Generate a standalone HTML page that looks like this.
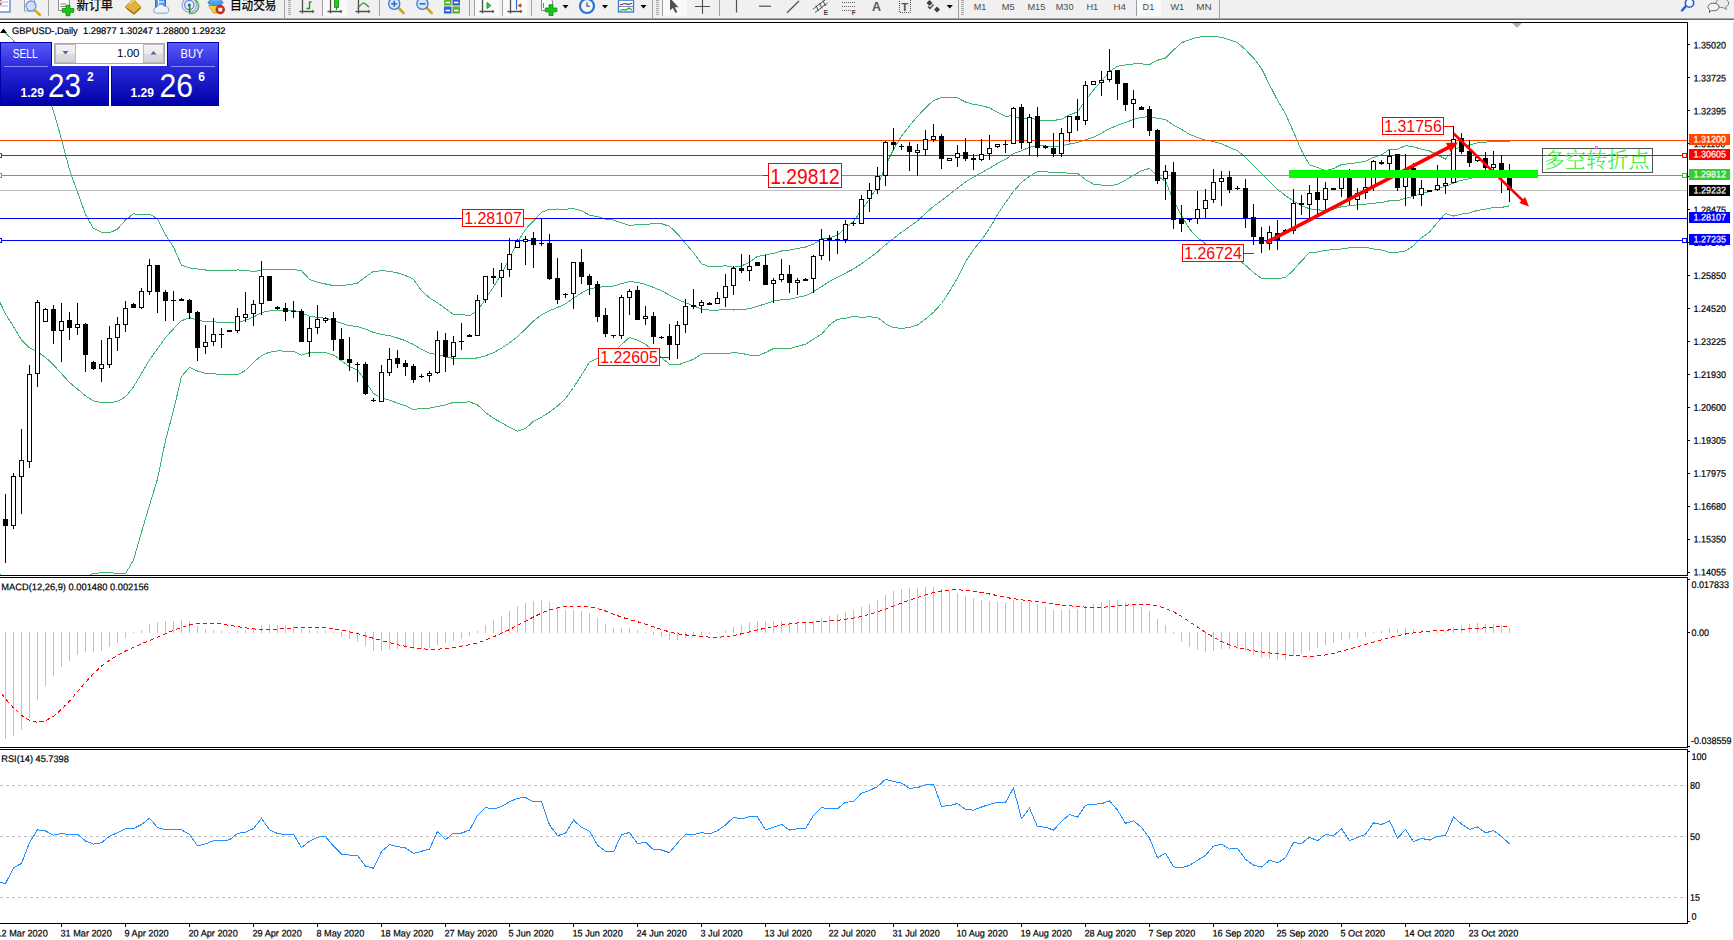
<!DOCTYPE html>
<html><head><meta charset="utf-8"><title>GBPUSD Daily</title>
<style>html,body{margin:0;padding:0;background:#fff;}body{width:1734px;height:940px;overflow:hidden;position:relative;font-family:"Liberation Sans", sans-serif;}svg{position:absolute;left:0;top:0;display:block}text{font-family:"Liberation Sans", sans-serif;}.ax{font-size:9.6px;fill:#000;stroke:#000;stroke-width:0.2px}.cj{font-family:"Liberation Sans","Noto Sans CJK SC",sans-serif}</style>
</head><body>
<svg width="1734" height="940" viewBox="0 0 1734 940">
<defs>
<linearGradient id="gs1" x1="0" y1="0" x2="0" y2="1"><stop offset="0" stop-color="#5a5af6"/><stop offset="1" stop-color="#2a2adc"/></linearGradient>
<linearGradient id="gs2" x1="0" y1="0" x2="0" y2="1"><stop offset="0" stop-color="#2a2adc"/><stop offset="1" stop-color="#0000a8"/></linearGradient>
<linearGradient id="gbtn" x1="0" y1="0" x2="0" y2="1"><stop offset="0" stop-color="#f3f3f3"/><stop offset="0.5" stop-color="#ebebeb"/><stop offset="0.5" stop-color="#dddddd"/><stop offset="1" stop-color="#d2d2d2"/></linearGradient>
<clipPath id="cmain"><rect x="0" y="23" width="1687" height="552"/></clipPath>
<clipPath id="ctb"><rect x="0" y="0" width="1734" height="18"/></clipPath>
</defs>
<rect x="0" y="0" width="1734" height="940" fill="#fff"/>
<g id="chart">
<g clip-path="url(#cmain)">
<polyline fill="none" stroke="#3cb371" stroke-width="1" points="5.5,33.1 13.5,40.5 21.5,54.7 29.5,68.7 37.5,77.5 45.5,91.0 53.5,111.0 61.5,139.3 69.5,169.9 77.5,192.1 85.5,214.5 93.5,228.5 101.5,232.1 109.5,232.9 117.5,229.1 125.5,220.1 133.5,213.8 141.5,214.9 149.5,214.2 157.5,218.7 165.5,234.8 173.5,247.2 181.5,265.2 189.5,268.0 197.5,269.0 205.5,270.0 213.5,270.0 221.5,270.4 229.5,270.4 237.5,270.0 245.5,270.1 253.5,271.8 261.5,269.8 269.5,269.4 277.5,269.2 285.5,269.3 293.5,269.5 301.5,270.7 309.5,279.4 317.5,282.3 325.5,284.0 333.5,285.6 341.5,285.6 349.5,284.6 357.5,283.1 365.5,276.9 373.5,271.4 381.5,270.8 389.5,271.2 397.5,273.0 405.5,275.5 413.5,279.3 421.5,290.7 429.5,297.9 437.5,302.7 445.5,308.7 453.5,314.3 461.5,314.4 469.5,315.8 477.5,310.8 485.5,299.1 493.5,287.1 501.5,273.8 509.5,258.4 517.5,242.2 525.5,229.3 533.5,221.0 541.5,212.2 549.5,209.2 557.5,209.0 565.5,209.2 573.5,208.5 581.5,210.8 589.5,215.1 597.5,216.6 605.5,219.3 613.5,220.1 621.5,222.9 629.5,225.6 637.5,224.6 645.5,224.8 653.5,223.5 661.5,223.7 669.5,226.3 677.5,233.9 685.5,243.3 693.5,252.6 701.5,263.7 709.5,267.0 717.5,266.8 725.5,265.7 733.5,267.2 741.5,266.0 749.5,262.2 757.5,256.4 765.5,254.9 773.5,253.4 781.5,251.0 789.5,250.1 797.5,248.5 805.5,247.0 813.5,244.2 821.5,239.0 829.5,237.9 837.5,235.1 845.5,227.6 853.5,221.4 861.5,210.1 869.5,199.2 877.5,186.4 885.5,165.8 893.5,149.4 901.5,136.2 909.5,125.8 917.5,116.4 925.5,107.9 933.5,100.4 941.5,97.6 949.5,97.3 957.5,97.9 965.5,102.0 973.5,104.5 981.5,105.5 989.5,107.9 997.5,112.3 1005.5,116.2 1013.5,115.8 1021.5,119.3 1029.5,118.0 1037.5,119.9 1045.5,120.2 1053.5,120.5 1061.5,119.2 1069.5,114.8 1077.5,111.9 1085.5,100.2 1093.5,90.0 1101.5,81.1 1109.5,71.6 1117.5,66.2 1125.5,65.0 1133.5,63.9 1141.5,63.9 1149.5,64.5 1157.5,60.3 1165.5,58.1 1173.5,50.1 1181.5,42.8 1189.5,39.7 1197.5,37.3 1205.5,36.2 1213.5,36.2 1221.5,37.3 1229.5,39.9 1237.5,42.5 1245.5,49.7 1253.5,58.0 1261.5,68.4 1269.5,84.7 1277.5,100.3 1285.5,113.7 1293.5,131.9 1301.5,150.5 1309.5,164.9 1317.5,167.5 1325.5,170.7 1333.5,168.6 1341.5,164.5 1349.5,163.8 1357.5,162.7 1365.5,161.3 1373.5,157.4 1381.5,155.0 1389.5,149.3 1397.5,149.3 1405.5,145.7 1413.5,146.8 1421.5,149.2 1429.5,151.0 1437.5,155.0 1445.5,159.0 1453.5,150.1 1461.5,146.5 1469.5,144.8 1477.5,142.9 1485.5,142.2 1493.5,141.2 1501.5,141.1 1509.5,141.9" shape-rendering="crispEdges"/>
<polyline fill="none" stroke="#3cb371" stroke-width="1" points="-2.5,297.0 5.5,313.9 13.5,326.6 21.5,339.8 29.5,347.9 37.5,351.9 45.5,357.3 53.5,364.9 61.5,373.7 69.5,382.5 77.5,389.0 85.5,395.9 93.5,400.9 101.5,402.5 109.5,402.8 117.5,401.3 125.5,396.9 133.5,386.9 141.5,373.5 149.5,359.8 157.5,348.8 165.5,337.6 173.5,328.8 181.5,320.8 189.5,317.7 197.5,320.0 205.5,321.7 213.5,321.8 221.5,322.5 229.5,322.7 237.5,322.3 245.5,320.3 253.5,317.1 261.5,312.7 269.5,310.8 277.5,310.0 285.5,310.2 293.5,310.4 301.5,312.9 309.5,316.1 317.5,317.4 325.5,318.3 333.5,320.2 341.5,323.2 349.5,325.7 357.5,326.5 365.5,329.1 373.5,332.4 381.5,334.4 389.5,335.7 397.5,338.0 405.5,340.7 413.5,344.5 421.5,349.5 429.5,353.1 437.5,354.6 445.5,356.8 453.5,358.4 461.5,358.4 469.5,358.8 477.5,357.9 485.5,355.8 493.5,352.7 501.5,348.2 509.5,342.8 517.5,336.7 525.5,328.9 533.5,321.1 541.5,314.7 549.5,310.7 557.5,307.5 565.5,303.9 573.5,298.0 581.5,293.0 589.5,288.6 597.5,287.5 605.5,286.3 613.5,286.0 621.5,283.7 629.5,281.5 637.5,282.4 645.5,284.4 653.5,287.4 661.5,290.7 669.5,295.2 677.5,299.4 685.5,302.8 693.5,305.9 701.5,308.9 709.5,310.1 717.5,310.1 725.5,309.7 733.5,310.0 741.5,309.7 749.5,308.7 757.5,306.2 765.5,303.8 773.5,301.0 781.5,299.8 789.5,299.4 797.5,297.4 805.5,295.6 813.5,291.6 821.5,286.7 829.5,281.4 837.5,277.1 845.5,273.1 853.5,268.9 861.5,263.7 869.5,258.0 877.5,251.9 885.5,244.7 893.5,238.5 901.5,232.3 909.5,226.6 917.5,220.8 925.5,213.5 933.5,206.3 941.5,200.6 949.5,194.4 957.5,188.0 965.5,181.9 973.5,177.1 981.5,172.8 989.5,168.2 997.5,163.4 1005.5,159.4 1013.5,153.7 1021.5,150.8 1029.5,147.2 1037.5,145.7 1045.5,146.0 1053.5,146.5 1061.5,145.8 1069.5,144.0 1077.5,142.6 1085.5,139.9 1093.5,137.1 1101.5,133.1 1109.5,128.7 1117.5,125.3 1125.5,122.6 1133.5,119.5 1141.5,117.4 1149.5,116.5 1157.5,118.3 1165.5,119.6 1173.5,125.2 1181.5,129.3 1189.5,134.4 1197.5,137.5 1205.5,140.1 1213.5,141.5 1221.5,143.7 1229.5,147.4 1237.5,150.8 1245.5,157.4 1253.5,165.2 1261.5,173.4 1269.5,181.5 1277.5,189.3 1285.5,195.7 1293.5,200.9 1301.5,205.7 1309.5,208.8 1317.5,209.8 1325.5,210.6 1333.5,209.1 1341.5,206.7 1349.5,205.7 1357.5,204.9 1365.5,204.2 1373.5,203.2 1381.5,202.5 1389.5,200.8 1397.5,200.8 1405.5,198.3 1413.5,196.3 1421.5,193.5 1429.5,191.5 1437.5,188.7 1445.5,186.3 1453.5,183.0 1461.5,180.3 1469.5,178.8 1477.5,176.6 1485.5,175.7 1493.5,174.3 1501.5,174.2 1509.5,173.8" shape-rendering="crispEdges"/>
<polyline fill="none" stroke="#3cb371" stroke-width="1" points="-2.5,564.9 5.5,594.6 13.5,612.6 21.5,624.9 29.5,627.2 37.5,626.2 45.5,623.7 53.5,618.9 61.5,608.1 69.5,595.2 77.5,585.8 85.5,577.2 93.5,573.2 101.5,572.9 109.5,572.7 117.5,573.4 125.5,573.7 133.5,559.9 141.5,532.2 149.5,505.4 157.5,478.9 165.5,440.3 173.5,410.4 181.5,376.4 189.5,367.5 197.5,371.0 205.5,373.4 213.5,373.7 221.5,374.7 229.5,375.0 237.5,374.7 245.5,370.5 253.5,362.3 261.5,355.5 269.5,352.2 277.5,350.9 285.5,351.1 293.5,351.3 301.5,355.1 309.5,352.7 317.5,352.5 325.5,352.6 333.5,354.9 341.5,360.8 349.5,366.8 357.5,369.9 365.5,381.3 373.5,393.5 381.5,397.9 389.5,400.2 397.5,403.1 405.5,405.9 413.5,409.7 421.5,408.2 429.5,408.2 437.5,406.5 445.5,404.9 453.5,402.4 461.5,402.4 469.5,401.8 477.5,404.9 485.5,412.4 493.5,418.3 501.5,422.7 509.5,427.3 517.5,431.2 525.5,428.6 533.5,421.2 541.5,417.1 549.5,412.1 557.5,406.0 565.5,398.6 573.5,387.5 581.5,375.2 589.5,362.1 597.5,358.4 605.5,353.4 613.5,351.9 621.5,344.6 629.5,337.3 637.5,340.3 645.5,344.1 653.5,351.2 661.5,357.8 669.5,364.2 677.5,365.0 685.5,362.3 693.5,359.2 701.5,354.1 709.5,353.3 717.5,353.3 725.5,353.6 733.5,352.7 741.5,353.3 749.5,355.2 757.5,356.0 765.5,352.6 773.5,348.5 781.5,348.7 789.5,348.7 797.5,346.4 805.5,344.2 813.5,339.1 821.5,334.3 829.5,325.0 837.5,319.2 845.5,318.5 853.5,316.4 861.5,317.3 869.5,316.8 877.5,317.4 885.5,323.6 893.5,327.6 901.5,328.4 909.5,327.4 917.5,325.1 925.5,319.1 933.5,312.3 941.5,303.5 949.5,291.4 957.5,278.0 965.5,261.8 973.5,249.6 981.5,240.1 989.5,228.5 997.5,214.6 1005.5,202.6 1013.5,191.5 1021.5,182.4 1029.5,176.3 1037.5,171.5 1045.5,171.8 1053.5,172.5 1061.5,172.4 1069.5,173.3 1077.5,173.3 1085.5,179.5 1093.5,184.2 1101.5,185.1 1109.5,185.8 1117.5,184.4 1125.5,180.1 1133.5,175.2 1141.5,170.8 1149.5,168.4 1157.5,176.2 1165.5,181.2 1173.5,200.4 1181.5,215.7 1189.5,229.1 1197.5,237.6 1205.5,243.9 1213.5,246.8 1221.5,250.1 1229.5,254.9 1237.5,259.0 1245.5,265.2 1253.5,272.5 1261.5,278.4 1269.5,278.3 1277.5,278.4 1285.5,277.7 1293.5,269.9 1301.5,260.9 1309.5,252.7 1317.5,252.0 1325.5,250.4 1333.5,249.6 1341.5,249.0 1349.5,247.7 1357.5,247.1 1365.5,247.1 1373.5,249.0 1381.5,250.1 1389.5,252.3 1397.5,252.3 1405.5,250.9 1413.5,245.7 1421.5,237.8 1429.5,232.0 1437.5,222.4 1445.5,213.5 1453.5,216.0 1461.5,214.1 1469.5,212.9 1477.5,210.4 1485.5,209.1 1493.5,207.5 1501.5,207.4 1509.5,205.8" shape-rendering="crispEdges"/>
</g>
<rect x="0" y="140" width="1687" height="1" fill="#ff4500"/>
<rect x="0" y="155" width="1687" height="1" fill="#ff0000"/>
<rect x="0" y="175" width="1687" height="1" fill="#32cd32"/>
<rect x="0" y="190" width="1687" height="1" fill="#c0c0c0"/>
<rect x="0" y="218" width="1687" height="1" fill="#0000ff"/>
<rect x="0" y="240" width="1687" height="1" fill="#0000ff"/>
<g shape-rendering="crispEdges">
<rect x="5" y="494" width="1" height="69" fill="#000"/>
<rect x="3" y="519" width="5" height="7" fill="#000"/>
<rect x="13" y="473" width="1" height="56" fill="#000"/>
<rect x="11" y="476" width="5" height="50" fill="#000"/>
<rect x="12" y="477" width="3" height="48" fill="#fff"/>
<rect x="21" y="429" width="1" height="85" fill="#000"/>
<rect x="19" y="460" width="5" height="17" fill="#000"/>
<rect x="20" y="461" width="3" height="15" fill="#fff"/>
<rect x="29" y="365" width="1" height="103" fill="#000"/>
<rect x="27" y="374" width="5" height="88" fill="#000"/>
<rect x="28" y="375" width="3" height="86" fill="#fff"/>
<rect x="37" y="300" width="1" height="87" fill="#000"/>
<rect x="35" y="302" width="5" height="72" fill="#000"/>
<rect x="36" y="303" width="3" height="70" fill="#fff"/>
<rect x="45" y="308" width="1" height="14" fill="#000"/>
<rect x="43" y="309" width="5" height="13" fill="#000"/>
<rect x="44" y="310" width="3" height="11" fill="#fff"/>
<rect x="53" y="305" width="1" height="39" fill="#000"/>
<rect x="51" y="309" width="5" height="22" fill="#000"/>
<rect x="61" y="303" width="1" height="59" fill="#000"/>
<rect x="59" y="321" width="5" height="10" fill="#000"/>
<rect x="60" y="322" width="3" height="8" fill="#fff"/>
<rect x="69" y="312" width="1" height="28" fill="#000"/>
<rect x="67" y="320" width="5" height="8" fill="#000"/>
<rect x="77" y="303" width="1" height="32" fill="#000"/>
<rect x="75" y="324" width="5" height="4" fill="#000"/>
<rect x="76" y="325" width="3" height="2" fill="#fff"/>
<rect x="85" y="323" width="1" height="49" fill="#000"/>
<rect x="83" y="324" width="5" height="31" fill="#000"/>
<rect x="93" y="361" width="1" height="9" fill="#000"/>
<rect x="91" y="362" width="5" height="7" fill="#000"/>
<rect x="101" y="340" width="1" height="42" fill="#000"/>
<rect x="99" y="364" width="5" height="5" fill="#000"/>
<rect x="100" y="365" width="3" height="3" fill="#fff"/>
<rect x="109" y="326" width="1" height="42" fill="#000"/>
<rect x="107" y="338" width="5" height="27" fill="#000"/>
<rect x="108" y="339" width="3" height="25" fill="#fff"/>
<rect x="117" y="317" width="1" height="34" fill="#000"/>
<rect x="115" y="324" width="5" height="14" fill="#000"/>
<rect x="116" y="325" width="3" height="12" fill="#fff"/>
<rect x="125" y="301" width="1" height="31" fill="#000"/>
<rect x="123" y="308" width="5" height="17" fill="#000"/>
<rect x="124" y="309" width="3" height="15" fill="#fff"/>
<rect x="133" y="303" width="1" height="5" fill="#000"/>
<rect x="131" y="304" width="5" height="4" fill="#000"/>
<rect x="141" y="288" width="1" height="21" fill="#000"/>
<rect x="139" y="291" width="5" height="17" fill="#000"/>
<rect x="140" y="292" width="3" height="15" fill="#fff"/>
<rect x="149" y="259" width="1" height="36" fill="#000"/>
<rect x="147" y="265" width="5" height="27" fill="#000"/>
<rect x="148" y="266" width="3" height="25" fill="#fff"/>
<rect x="157" y="265" width="1" height="48" fill="#000"/>
<rect x="155" y="265" width="5" height="27" fill="#000"/>
<rect x="165" y="290" width="1" height="31" fill="#000"/>
<rect x="163" y="292" width="5" height="9" fill="#000"/>
<rect x="173" y="291" width="1" height="30" fill="#000"/>
<rect x="171" y="300" width="5" height="1" fill="#000"/>
<rect x="181" y="298" width="1" height="3" fill="#000"/>
<rect x="179" y="299" width="5" height="2" fill="#000"/>
<rect x="189" y="299" width="1" height="20" fill="#000"/>
<rect x="187" y="300" width="5" height="13" fill="#000"/>
<rect x="197" y="311" width="1" height="50" fill="#000"/>
<rect x="195" y="312" width="5" height="36" fill="#000"/>
<rect x="205" y="325" width="1" height="29" fill="#000"/>
<rect x="203" y="342" width="5" height="5" fill="#000"/>
<rect x="204" y="343" width="3" height="3" fill="#fff"/>
<rect x="213" y="318" width="1" height="28" fill="#000"/>
<rect x="211" y="334" width="5" height="8" fill="#000"/>
<rect x="212" y="335" width="3" height="6" fill="#fff"/>
<rect x="221" y="328" width="1" height="20" fill="#000"/>
<rect x="219" y="334" width="5" height="1" fill="#000"/>
<rect x="229" y="330" width="1" height="2" fill="#000"/>
<rect x="227" y="330" width="5" height="2" fill="#000"/>
<rect x="237" y="308" width="1" height="25" fill="#000"/>
<rect x="235" y="316" width="5" height="15" fill="#000"/>
<rect x="236" y="317" width="3" height="13" fill="#fff"/>
<rect x="245" y="292" width="1" height="30" fill="#000"/>
<rect x="243" y="314" width="5" height="4" fill="#000"/>
<rect x="244" y="315" width="3" height="2" fill="#fff"/>
<rect x="253" y="300" width="1" height="26" fill="#000"/>
<rect x="251" y="304" width="5" height="10" fill="#000"/>
<rect x="252" y="305" width="3" height="8" fill="#fff"/>
<rect x="261" y="261" width="1" height="54" fill="#000"/>
<rect x="259" y="276" width="5" height="28" fill="#000"/>
<rect x="260" y="277" width="3" height="26" fill="#fff"/>
<rect x="269" y="276" width="1" height="25" fill="#000"/>
<rect x="267" y="276" width="5" height="25" fill="#000"/>
<rect x="277" y="306" width="1" height="4" fill="#000"/>
<rect x="275" y="307" width="5" height="2" fill="#000"/>
<rect x="285" y="303" width="1" height="18" fill="#000"/>
<rect x="283" y="308" width="5" height="4" fill="#000"/>
<rect x="293" y="301" width="1" height="17" fill="#000"/>
<rect x="291" y="311" width="5" height="1" fill="#000"/>
<rect x="301" y="309" width="1" height="33" fill="#000"/>
<rect x="299" y="311" width="5" height="31" fill="#000"/>
<rect x="309" y="317" width="1" height="40" fill="#000"/>
<rect x="307" y="328" width="5" height="14" fill="#000"/>
<rect x="308" y="329" width="3" height="12" fill="#fff"/>
<rect x="317" y="305" width="1" height="29" fill="#000"/>
<rect x="315" y="319" width="5" height="9" fill="#000"/>
<rect x="316" y="320" width="3" height="7" fill="#fff"/>
<rect x="325" y="317" width="1" height="6" fill="#000"/>
<rect x="323" y="318" width="5" height="3" fill="#000"/>
<rect x="324" y="319" width="3" height="1" fill="#fff"/>
<rect x="333" y="312" width="1" height="39" fill="#000"/>
<rect x="331" y="318" width="5" height="22" fill="#000"/>
<rect x="341" y="328" width="1" height="32" fill="#000"/>
<rect x="339" y="339" width="5" height="21" fill="#000"/>
<rect x="349" y="337" width="1" height="34" fill="#000"/>
<rect x="347" y="359" width="5" height="4" fill="#000"/>
<rect x="357" y="362" width="1" height="20" fill="#000"/>
<rect x="355" y="364" width="5" height="1" fill="#000"/>
<rect x="365" y="362" width="1" height="33" fill="#000"/>
<rect x="363" y="364" width="5" height="30" fill="#000"/>
<rect x="373" y="398" width="1" height="4" fill="#000"/>
<rect x="371" y="400" width="5" height="1" fill="#000"/>
<rect x="381" y="365" width="1" height="37" fill="#000"/>
<rect x="379" y="372" width="5" height="30" fill="#000"/>
<rect x="380" y="373" width="3" height="28" fill="#fff"/>
<rect x="389" y="348" width="1" height="28" fill="#000"/>
<rect x="387" y="359" width="5" height="14" fill="#000"/>
<rect x="388" y="360" width="3" height="12" fill="#fff"/>
<rect x="397" y="350" width="1" height="18" fill="#000"/>
<rect x="395" y="358" width="5" height="6" fill="#000"/>
<rect x="405" y="360" width="1" height="16" fill="#000"/>
<rect x="403" y="363" width="5" height="4" fill="#000"/>
<rect x="413" y="364" width="1" height="19" fill="#000"/>
<rect x="411" y="366" width="5" height="14" fill="#000"/>
<rect x="421" y="374" width="1" height="4" fill="#000"/>
<rect x="419" y="376" width="5" height="1" fill="#000"/>
<rect x="429" y="371" width="1" height="11" fill="#000"/>
<rect x="427" y="373" width="5" height="3" fill="#000"/>
<rect x="428" y="374" width="3" height="1" fill="#fff"/>
<rect x="437" y="331" width="1" height="43" fill="#000"/>
<rect x="435" y="340" width="5" height="33" fill="#000"/>
<rect x="436" y="341" width="3" height="31" fill="#fff"/>
<rect x="445" y="333" width="1" height="39" fill="#000"/>
<rect x="443" y="340" width="5" height="17" fill="#000"/>
<rect x="453" y="336" width="1" height="29" fill="#000"/>
<rect x="451" y="342" width="5" height="15" fill="#000"/>
<rect x="452" y="343" width="3" height="13" fill="#fff"/>
<rect x="461" y="323" width="1" height="27" fill="#000"/>
<rect x="459" y="341" width="5" height="1" fill="#000"/>
<rect x="469" y="334" width="1" height="3" fill="#000"/>
<rect x="467" y="335" width="5" height="2" fill="#000"/>
<rect x="477" y="295" width="1" height="41" fill="#000"/>
<rect x="475" y="300" width="5" height="36" fill="#000"/>
<rect x="476" y="301" width="3" height="34" fill="#fff"/>
<rect x="485" y="276" width="1" height="27" fill="#000"/>
<rect x="483" y="276" width="5" height="24" fill="#000"/>
<rect x="484" y="277" width="3" height="22" fill="#fff"/>
<rect x="493" y="268" width="1" height="16" fill="#000"/>
<rect x="491" y="276" width="5" height="2" fill="#000"/>
<rect x="501" y="263" width="1" height="34" fill="#000"/>
<rect x="499" y="270" width="5" height="8" fill="#000"/>
<rect x="500" y="271" width="3" height="6" fill="#fff"/>
<rect x="509" y="238" width="1" height="39" fill="#000"/>
<rect x="507" y="254" width="5" height="16" fill="#000"/>
<rect x="508" y="255" width="3" height="14" fill="#fff"/>
<rect x="517" y="239" width="1" height="9" fill="#000"/>
<rect x="515" y="241" width="5" height="7" fill="#000"/>
<rect x="516" y="242" width="3" height="5" fill="#fff"/>
<rect x="525" y="236" width="1" height="29" fill="#000"/>
<rect x="523" y="239" width="5" height="3" fill="#000"/>
<rect x="524" y="240" width="3" height="1" fill="#fff"/>
<rect x="533" y="232" width="1" height="36" fill="#000"/>
<rect x="531" y="238" width="5" height="7" fill="#000"/>
<rect x="541" y="218" width="1" height="28" fill="#000"/>
<rect x="539" y="243" width="5" height="1" fill="#000"/>
<rect x="549" y="234" width="1" height="46" fill="#000"/>
<rect x="547" y="243" width="5" height="36" fill="#000"/>
<rect x="557" y="258" width="1" height="46" fill="#000"/>
<rect x="555" y="278" width="5" height="22" fill="#000"/>
<rect x="565" y="293" width="1" height="5" fill="#000"/>
<rect x="563" y="294" width="5" height="1" fill="#000"/>
<rect x="573" y="262" width="1" height="47" fill="#000"/>
<rect x="571" y="262" width="5" height="32" fill="#000"/>
<rect x="572" y="263" width="3" height="30" fill="#fff"/>
<rect x="581" y="249" width="1" height="35" fill="#000"/>
<rect x="579" y="262" width="5" height="15" fill="#000"/>
<rect x="589" y="274" width="1" height="21" fill="#000"/>
<rect x="587" y="276" width="5" height="9" fill="#000"/>
<rect x="597" y="281" width="1" height="41" fill="#000"/>
<rect x="595" y="284" width="5" height="33" fill="#000"/>
<rect x="605" y="308" width="1" height="29" fill="#000"/>
<rect x="603" y="315" width="5" height="19" fill="#000"/>
<rect x="613" y="335" width="1" height="3" fill="#000"/>
<rect x="611" y="335" width="5" height="1" fill="#000"/>
<rect x="621" y="295" width="1" height="44" fill="#000"/>
<rect x="619" y="297" width="5" height="39" fill="#000"/>
<rect x="620" y="298" width="3" height="37" fill="#fff"/>
<rect x="629" y="289" width="1" height="26" fill="#000"/>
<rect x="627" y="291" width="5" height="7" fill="#000"/>
<rect x="628" y="292" width="3" height="5" fill="#fff"/>
<rect x="637" y="286" width="1" height="34" fill="#000"/>
<rect x="635" y="290" width="5" height="30" fill="#000"/>
<rect x="645" y="306" width="1" height="19" fill="#000"/>
<rect x="643" y="316" width="5" height="3" fill="#000"/>
<rect x="644" y="317" width="3" height="1" fill="#fff"/>
<rect x="653" y="312" width="1" height="32" fill="#000"/>
<rect x="651" y="316" width="5" height="21" fill="#000"/>
<rect x="661" y="336" width="1" height="3" fill="#000"/>
<rect x="659" y="337" width="5" height="1" fill="#000"/>
<rect x="669" y="324" width="1" height="36" fill="#000"/>
<rect x="667" y="336" width="5" height="9" fill="#000"/>
<rect x="677" y="321" width="1" height="38" fill="#000"/>
<rect x="675" y="325" width="5" height="20" fill="#000"/>
<rect x="676" y="326" width="3" height="18" fill="#fff"/>
<rect x="685" y="299" width="1" height="34" fill="#000"/>
<rect x="683" y="306" width="5" height="19" fill="#000"/>
<rect x="684" y="307" width="3" height="17" fill="#fff"/>
<rect x="693" y="289" width="1" height="20" fill="#000"/>
<rect x="691" y="305" width="5" height="2" fill="#000"/>
<rect x="701" y="300" width="1" height="13" fill="#000"/>
<rect x="699" y="302" width="5" height="4" fill="#000"/>
<rect x="700" y="303" width="3" height="2" fill="#fff"/>
<rect x="709" y="302" width="1" height="3" fill="#000"/>
<rect x="707" y="303" width="5" height="2" fill="#000"/>
<rect x="717" y="292" width="1" height="12" fill="#000"/>
<rect x="715" y="298" width="5" height="6" fill="#000"/>
<rect x="716" y="299" width="3" height="4" fill="#fff"/>
<rect x="725" y="274" width="1" height="33" fill="#000"/>
<rect x="723" y="286" width="5" height="12" fill="#000"/>
<rect x="724" y="287" width="3" height="10" fill="#fff"/>
<rect x="733" y="266" width="1" height="29" fill="#000"/>
<rect x="731" y="268" width="5" height="18" fill="#000"/>
<rect x="732" y="269" width="3" height="16" fill="#fff"/>
<rect x="741" y="254" width="1" height="19" fill="#000"/>
<rect x="739" y="268" width="5" height="3" fill="#000"/>
<rect x="749" y="255" width="1" height="26" fill="#000"/>
<rect x="747" y="266" width="5" height="5" fill="#000"/>
<rect x="748" y="267" width="3" height="3" fill="#fff"/>
<rect x="757" y="262" width="1" height="4" fill="#000"/>
<rect x="755" y="262" width="5" height="4" fill="#000"/>
<rect x="765" y="255" width="1" height="30" fill="#000"/>
<rect x="763" y="265" width="5" height="20" fill="#000"/>
<rect x="773" y="278" width="1" height="25" fill="#000"/>
<rect x="771" y="280" width="5" height="4" fill="#000"/>
<rect x="772" y="281" width="3" height="2" fill="#fff"/>
<rect x="781" y="259" width="1" height="23" fill="#000"/>
<rect x="779" y="274" width="5" height="6" fill="#000"/>
<rect x="780" y="275" width="3" height="4" fill="#fff"/>
<rect x="789" y="265" width="1" height="28" fill="#000"/>
<rect x="787" y="274" width="5" height="9" fill="#000"/>
<rect x="797" y="278" width="1" height="17" fill="#000"/>
<rect x="795" y="280" width="5" height="3" fill="#000"/>
<rect x="796" y="281" width="3" height="1" fill="#fff"/>
<rect x="805" y="278" width="1" height="3" fill="#000"/>
<rect x="803" y="279" width="5" height="2" fill="#000"/>
<rect x="813" y="255" width="1" height="38" fill="#000"/>
<rect x="811" y="256" width="5" height="23" fill="#000"/>
<rect x="812" y="257" width="3" height="21" fill="#fff"/>
<rect x="821" y="229" width="1" height="31" fill="#000"/>
<rect x="819" y="239" width="5" height="17" fill="#000"/>
<rect x="820" y="240" width="3" height="15" fill="#fff"/>
<rect x="829" y="235" width="1" height="26" fill="#000"/>
<rect x="827" y="238" width="5" height="2" fill="#000"/>
<rect x="837" y="231" width="1" height="23" fill="#000"/>
<rect x="835" y="239" width="5" height="1" fill="#000"/>
<rect x="845" y="220" width="1" height="23" fill="#000"/>
<rect x="843" y="224" width="5" height="16" fill="#000"/>
<rect x="844" y="225" width="3" height="14" fill="#fff"/>
<rect x="853" y="221" width="1" height="5" fill="#000"/>
<rect x="851" y="223" width="5" height="1" fill="#000"/>
<rect x="861" y="195" width="1" height="29" fill="#000"/>
<rect x="859" y="199" width="5" height="25" fill="#000"/>
<rect x="860" y="200" width="3" height="23" fill="#fff"/>
<rect x="869" y="183" width="1" height="29" fill="#000"/>
<rect x="867" y="190" width="5" height="9" fill="#000"/>
<rect x="868" y="191" width="3" height="7" fill="#fff"/>
<rect x="877" y="167" width="1" height="27" fill="#000"/>
<rect x="875" y="176" width="5" height="14" fill="#000"/>
<rect x="876" y="177" width="3" height="12" fill="#fff"/>
<rect x="885" y="141" width="1" height="45" fill="#000"/>
<rect x="883" y="142" width="5" height="34" fill="#000"/>
<rect x="884" y="143" width="3" height="32" fill="#fff"/>
<rect x="893" y="128" width="1" height="22" fill="#000"/>
<rect x="891" y="142" width="5" height="3" fill="#000"/>
<rect x="901" y="144" width="1" height="6" fill="#000"/>
<rect x="899" y="146" width="5" height="1" fill="#000"/>
<rect x="909" y="142" width="1" height="29" fill="#000"/>
<rect x="907" y="146" width="5" height="6" fill="#000"/>
<rect x="917" y="144" width="1" height="32" fill="#000"/>
<rect x="915" y="150" width="5" height="3" fill="#000"/>
<rect x="916" y="151" width="3" height="1" fill="#fff"/>
<rect x="925" y="130" width="1" height="26" fill="#000"/>
<rect x="923" y="139" width="5" height="11" fill="#000"/>
<rect x="924" y="140" width="3" height="9" fill="#fff"/>
<rect x="933" y="124" width="1" height="18" fill="#000"/>
<rect x="931" y="136" width="5" height="4" fill="#000"/>
<rect x="932" y="137" width="3" height="2" fill="#fff"/>
<rect x="941" y="134" width="1" height="35" fill="#000"/>
<rect x="939" y="136" width="5" height="23" fill="#000"/>
<rect x="949" y="158" width="1" height="3" fill="#000"/>
<rect x="947" y="158" width="5" height="3" fill="#000"/>
<rect x="948" y="159" width="3" height="1" fill="#fff"/>
<rect x="957" y="145" width="1" height="22" fill="#000"/>
<rect x="955" y="153" width="5" height="5" fill="#000"/>
<rect x="956" y="154" width="3" height="3" fill="#fff"/>
<rect x="965" y="138" width="1" height="23" fill="#000"/>
<rect x="963" y="152" width="5" height="7" fill="#000"/>
<rect x="973" y="154" width="1" height="16" fill="#000"/>
<rect x="971" y="158" width="5" height="2" fill="#000"/>
<rect x="981" y="139" width="1" height="22" fill="#000"/>
<rect x="979" y="154" width="5" height="6" fill="#000"/>
<rect x="980" y="155" width="3" height="4" fill="#fff"/>
<rect x="989" y="135" width="1" height="25" fill="#000"/>
<rect x="987" y="148" width="5" height="6" fill="#000"/>
<rect x="988" y="149" width="3" height="4" fill="#fff"/>
<rect x="997" y="144" width="1" height="4" fill="#000"/>
<rect x="995" y="144" width="5" height="3" fill="#000"/>
<rect x="996" y="145" width="3" height="1" fill="#fff"/>
<rect x="1005" y="140" width="1" height="13" fill="#000"/>
<rect x="1003" y="144" width="5" height="1" fill="#000"/>
<rect x="1013" y="107" width="1" height="37" fill="#000"/>
<rect x="1011" y="108" width="5" height="36" fill="#000"/>
<rect x="1012" y="109" width="3" height="34" fill="#fff"/>
<rect x="1021" y="104" width="1" height="45" fill="#000"/>
<rect x="1019" y="107" width="5" height="36" fill="#000"/>
<rect x="1029" y="114" width="1" height="42" fill="#000"/>
<rect x="1027" y="117" width="5" height="26" fill="#000"/>
<rect x="1028" y="118" width="3" height="24" fill="#fff"/>
<rect x="1037" y="107" width="1" height="50" fill="#000"/>
<rect x="1035" y="116" width="5" height="32" fill="#000"/>
<rect x="1045" y="145" width="1" height="4" fill="#000"/>
<rect x="1043" y="146" width="5" height="2" fill="#000"/>
<rect x="1053" y="133" width="1" height="24" fill="#000"/>
<rect x="1051" y="148" width="5" height="6" fill="#000"/>
<rect x="1061" y="128" width="1" height="29" fill="#000"/>
<rect x="1059" y="133" width="5" height="21" fill="#000"/>
<rect x="1060" y="134" width="3" height="19" fill="#fff"/>
<rect x="1069" y="116" width="1" height="26" fill="#000"/>
<rect x="1067" y="116" width="5" height="17" fill="#000"/>
<rect x="1068" y="117" width="3" height="15" fill="#fff"/>
<rect x="1077" y="99" width="1" height="32" fill="#000"/>
<rect x="1075" y="116" width="5" height="4" fill="#000"/>
<rect x="1085" y="81" width="1" height="44" fill="#000"/>
<rect x="1083" y="85" width="5" height="36" fill="#000"/>
<rect x="1084" y="86" width="3" height="34" fill="#fff"/>
<rect x="1093" y="81" width="1" height="4" fill="#000"/>
<rect x="1091" y="81" width="5" height="4" fill="#000"/>
<rect x="1092" y="82" width="3" height="2" fill="#fff"/>
<rect x="1101" y="71" width="1" height="25" fill="#000"/>
<rect x="1099" y="80" width="5" height="3" fill="#000"/>
<rect x="1100" y="81" width="3" height="1" fill="#fff"/>
<rect x="1109" y="49" width="1" height="33" fill="#000"/>
<rect x="1107" y="71" width="5" height="9" fill="#000"/>
<rect x="1108" y="72" width="3" height="7" fill="#fff"/>
<rect x="1117" y="70" width="1" height="30" fill="#000"/>
<rect x="1115" y="70" width="5" height="14" fill="#000"/>
<rect x="1125" y="83" width="1" height="28" fill="#000"/>
<rect x="1123" y="83" width="5" height="22" fill="#000"/>
<rect x="1133" y="90" width="1" height="38" fill="#000"/>
<rect x="1131" y="99" width="5" height="5" fill="#000"/>
<rect x="1132" y="100" width="3" height="3" fill="#fff"/>
<rect x="1141" y="106" width="1" height="4" fill="#000"/>
<rect x="1139" y="107" width="5" height="3" fill="#000"/>
<rect x="1149" y="106" width="1" height="30" fill="#000"/>
<rect x="1147" y="109" width="5" height="22" fill="#000"/>
<rect x="1157" y="129" width="1" height="55" fill="#000"/>
<rect x="1155" y="130" width="5" height="51" fill="#000"/>
<rect x="1165" y="165" width="1" height="35" fill="#000"/>
<rect x="1163" y="171" width="5" height="8" fill="#000"/>
<rect x="1164" y="172" width="3" height="6" fill="#fff"/>
<rect x="1173" y="162" width="1" height="67" fill="#000"/>
<rect x="1171" y="172" width="5" height="48" fill="#000"/>
<rect x="1181" y="205" width="1" height="27" fill="#000"/>
<rect x="1179" y="218" width="5" height="6" fill="#000"/>
<rect x="1189" y="219" width="1" height="3" fill="#000"/>
<rect x="1187" y="219" width="5" height="1" fill="#000"/>
<rect x="1197" y="191" width="1" height="33" fill="#000"/>
<rect x="1195" y="209" width="5" height="10" fill="#000"/>
<rect x="1196" y="210" width="3" height="8" fill="#fff"/>
<rect x="1205" y="189" width="1" height="29" fill="#000"/>
<rect x="1203" y="200" width="5" height="9" fill="#000"/>
<rect x="1204" y="201" width="3" height="7" fill="#fff"/>
<rect x="1213" y="169" width="1" height="34" fill="#000"/>
<rect x="1211" y="182" width="5" height="18" fill="#000"/>
<rect x="1212" y="183" width="3" height="16" fill="#fff"/>
<rect x="1221" y="171" width="1" height="35" fill="#000"/>
<rect x="1219" y="178" width="5" height="4" fill="#000"/>
<rect x="1220" y="179" width="3" height="2" fill="#fff"/>
<rect x="1229" y="171" width="1" height="22" fill="#000"/>
<rect x="1227" y="177" width="5" height="13" fill="#000"/>
<rect x="1237" y="186" width="1" height="4" fill="#000"/>
<rect x="1235" y="188" width="5" height="1" fill="#000"/>
<rect x="1245" y="179" width="1" height="49" fill="#000"/>
<rect x="1243" y="188" width="5" height="30" fill="#000"/>
<rect x="1253" y="204" width="1" height="41" fill="#000"/>
<rect x="1251" y="217" width="5" height="20" fill="#000"/>
<rect x="1261" y="227" width="1" height="26" fill="#000"/>
<rect x="1259" y="237" width="5" height="7" fill="#000"/>
<rect x="1269" y="226" width="1" height="24" fill="#000"/>
<rect x="1267" y="232" width="5" height="12" fill="#000"/>
<rect x="1268" y="233" width="3" height="10" fill="#fff"/>
<rect x="1277" y="220" width="1" height="30" fill="#000"/>
<rect x="1275" y="233" width="5" height="7" fill="#000"/>
<rect x="1285" y="229" width="1" height="3" fill="#000"/>
<rect x="1283" y="230" width="5" height="2" fill="#000"/>
<rect x="1293" y="189" width="1" height="45" fill="#000"/>
<rect x="1291" y="203" width="5" height="28" fill="#000"/>
<rect x="1292" y="204" width="3" height="26" fill="#fff"/>
<rect x="1301" y="195" width="1" height="20" fill="#000"/>
<rect x="1299" y="203" width="5" height="2" fill="#000"/>
<rect x="1309" y="185" width="1" height="33" fill="#000"/>
<rect x="1307" y="193" width="5" height="12" fill="#000"/>
<rect x="1308" y="194" width="3" height="10" fill="#fff"/>
<rect x="1317" y="178" width="1" height="36" fill="#000"/>
<rect x="1315" y="192" width="5" height="8" fill="#000"/>
<rect x="1325" y="182" width="1" height="28" fill="#000"/>
<rect x="1323" y="188" width="5" height="12" fill="#000"/>
<rect x="1324" y="189" width="3" height="10" fill="#fff"/>
<rect x="1333" y="188" width="1" height="2" fill="#000"/>
<rect x="1331" y="188" width="5" height="2" fill="#000"/>
<rect x="1341" y="171" width="1" height="26" fill="#000"/>
<rect x="1339" y="176" width="5" height="13" fill="#000"/>
<rect x="1340" y="177" width="3" height="11" fill="#fff"/>
<rect x="1349" y="169" width="1" height="36" fill="#000"/>
<rect x="1347" y="176" width="5" height="23" fill="#000"/>
<rect x="1357" y="188" width="1" height="22" fill="#000"/>
<rect x="1355" y="193" width="5" height="7" fill="#000"/>
<rect x="1356" y="194" width="3" height="5" fill="#fff"/>
<rect x="1365" y="178" width="1" height="21" fill="#000"/>
<rect x="1363" y="187" width="5" height="6" fill="#000"/>
<rect x="1364" y="188" width="3" height="4" fill="#fff"/>
<rect x="1373" y="160" width="1" height="31" fill="#000"/>
<rect x="1371" y="161" width="5" height="26" fill="#000"/>
<rect x="1372" y="162" width="3" height="24" fill="#fff"/>
<rect x="1381" y="160" width="1" height="5" fill="#000"/>
<rect x="1379" y="162" width="5" height="2" fill="#000"/>
<rect x="1389" y="150" width="1" height="22" fill="#000"/>
<rect x="1387" y="156" width="5" height="8" fill="#000"/>
<rect x="1388" y="157" width="3" height="6" fill="#fff"/>
<rect x="1397" y="154" width="1" height="37" fill="#000"/>
<rect x="1395" y="154" width="5" height="34" fill="#000"/>
<rect x="1405" y="154" width="1" height="52" fill="#000"/>
<rect x="1403" y="169" width="5" height="18" fill="#000"/>
<rect x="1404" y="170" width="3" height="16" fill="#fff"/>
<rect x="1413" y="163" width="1" height="36" fill="#000"/>
<rect x="1411" y="168" width="5" height="28" fill="#000"/>
<rect x="1421" y="180" width="1" height="26" fill="#000"/>
<rect x="1419" y="188" width="5" height="7" fill="#000"/>
<rect x="1420" y="189" width="3" height="5" fill="#fff"/>
<rect x="1429" y="190" width="1" height="2" fill="#000"/>
<rect x="1427" y="190" width="5" height="2" fill="#000"/>
<rect x="1437" y="165" width="1" height="26" fill="#000"/>
<rect x="1435" y="185" width="5" height="5" fill="#000"/>
<rect x="1436" y="186" width="3" height="3" fill="#fff"/>
<rect x="1445" y="178" width="1" height="16" fill="#000"/>
<rect x="1443" y="183" width="5" height="3" fill="#000"/>
<rect x="1444" y="184" width="3" height="1" fill="#fff"/>
<rect x="1453" y="126" width="1" height="57" fill="#000"/>
<rect x="1451" y="139" width="5" height="44" fill="#000"/>
<rect x="1452" y="140" width="3" height="42" fill="#fff"/>
<rect x="1461" y="133" width="1" height="21" fill="#000"/>
<rect x="1459" y="138" width="5" height="14" fill="#000"/>
<rect x="1469" y="140" width="1" height="27" fill="#000"/>
<rect x="1467" y="151" width="5" height="12" fill="#000"/>
<rect x="1477" y="156" width="1" height="6" fill="#000"/>
<rect x="1475" y="157" width="5" height="4" fill="#000"/>
<rect x="1476" y="158" width="3" height="2" fill="#fff"/>
<rect x="1485" y="152" width="1" height="19" fill="#000"/>
<rect x="1483" y="158" width="5" height="10" fill="#000"/>
<rect x="1493" y="151" width="1" height="20" fill="#000"/>
<rect x="1491" y="164" width="5" height="4" fill="#000"/>
<rect x="1492" y="165" width="3" height="2" fill="#fff"/>
<rect x="1501" y="155" width="1" height="38" fill="#000"/>
<rect x="1499" y="163" width="5" height="11" fill="#000"/>
<rect x="1509" y="164" width="1" height="38" fill="#000"/>
<rect x="1507" y="174" width="5" height="16" fill="#000"/>
</g>
</g>
<g id="macd" shape-rendering="crispEdges">
<rect x="5" y="632" width="1" height="107" fill="#c0c0c0"/>
<rect x="13" y="632" width="1" height="104" fill="#c0c0c0"/>
<rect x="21" y="632" width="1" height="98" fill="#c0c0c0"/>
<rect x="29" y="632" width="1" height="86" fill="#c0c0c0"/>
<rect x="37" y="632" width="1" height="68" fill="#c0c0c0"/>
<rect x="45" y="632" width="1" height="54" fill="#c0c0c0"/>
<rect x="53" y="632" width="1" height="44" fill="#c0c0c0"/>
<rect x="61" y="632" width="1" height="35" fill="#c0c0c0"/>
<rect x="69" y="632" width="1" height="29" fill="#c0c0c0"/>
<rect x="77" y="632" width="1" height="23" fill="#c0c0c0"/>
<rect x="85" y="632" width="1" height="20" fill="#c0c0c0"/>
<rect x="93" y="632" width="1" height="20" fill="#c0c0c0"/>
<rect x="101" y="632" width="1" height="19" fill="#c0c0c0"/>
<rect x="109" y="632" width="1" height="15" fill="#c0c0c0"/>
<rect x="117" y="632" width="1" height="11" fill="#c0c0c0"/>
<rect x="125" y="632" width="1" height="6" fill="#c0c0c0"/>
<rect x="133" y="632" width="1" height="1" fill="#c0c0c0"/>
<rect x="141" y="630" width="1" height="3" fill="#c0c0c0"/>
<rect x="149" y="624" width="1" height="9" fill="#c0c0c0"/>
<rect x="157" y="622" width="1" height="11" fill="#c0c0c0"/>
<rect x="165" y="621" width="1" height="12" fill="#c0c0c0"/>
<rect x="173" y="621" width="1" height="12" fill="#c0c0c0"/>
<rect x="181" y="620" width="1" height="13" fill="#c0c0c0"/>
<rect x="189" y="621" width="1" height="12" fill="#c0c0c0"/>
<rect x="197" y="626" width="1" height="7" fill="#c0c0c0"/>
<rect x="205" y="629" width="1" height="4" fill="#c0c0c0"/>
<rect x="213" y="630" width="1" height="3" fill="#c0c0c0"/>
<rect x="221" y="631" width="1" height="2" fill="#c0c0c0"/>
<rect x="229" y="632" width="1" height="1" fill="#c0c0c0"/>
<rect x="237" y="631" width="1" height="2" fill="#c0c0c0"/>
<rect x="245" y="630" width="1" height="3" fill="#c0c0c0"/>
<rect x="253" y="629" width="1" height="4" fill="#c0c0c0"/>
<rect x="261" y="625" width="1" height="8" fill="#c0c0c0"/>
<rect x="269" y="624" width="1" height="9" fill="#c0c0c0"/>
<rect x="277" y="625" width="1" height="8" fill="#c0c0c0"/>
<rect x="285" y="625" width="1" height="8" fill="#c0c0c0"/>
<rect x="293" y="626" width="1" height="7" fill="#c0c0c0"/>
<rect x="301" y="629" width="1" height="4" fill="#c0c0c0"/>
<rect x="309" y="630" width="1" height="3" fill="#c0c0c0"/>
<rect x="317" y="631" width="1" height="2" fill="#c0c0c0"/>
<rect x="325" y="631" width="1" height="2" fill="#c0c0c0"/>
<rect x="333" y="632" width="1" height="1" fill="#c0c0c0"/>
<rect x="341" y="632" width="1" height="5" fill="#c0c0c0"/>
<rect x="349" y="632" width="1" height="7" fill="#c0c0c0"/>
<rect x="357" y="632" width="1" height="10" fill="#c0c0c0"/>
<rect x="365" y="632" width="1" height="14" fill="#c0c0c0"/>
<rect x="373" y="632" width="1" height="19" fill="#c0c0c0"/>
<rect x="381" y="632" width="1" height="19" fill="#c0c0c0"/>
<rect x="389" y="632" width="1" height="18" fill="#c0c0c0"/>
<rect x="397" y="632" width="1" height="17" fill="#c0c0c0"/>
<rect x="405" y="632" width="1" height="16" fill="#c0c0c0"/>
<rect x="413" y="632" width="1" height="17" fill="#c0c0c0"/>
<rect x="421" y="632" width="1" height="17" fill="#c0c0c0"/>
<rect x="429" y="632" width="1" height="16" fill="#c0c0c0"/>
<rect x="437" y="632" width="1" height="13" fill="#c0c0c0"/>
<rect x="445" y="632" width="1" height="11" fill="#c0c0c0"/>
<rect x="453" y="632" width="1" height="9" fill="#c0c0c0"/>
<rect x="461" y="632" width="1" height="7" fill="#c0c0c0"/>
<rect x="469" y="632" width="1" height="4" fill="#c0c0c0"/>
<rect x="477" y="631" width="1" height="2" fill="#c0c0c0"/>
<rect x="485" y="625" width="1" height="8" fill="#c0c0c0"/>
<rect x="493" y="620" width="1" height="13" fill="#c0c0c0"/>
<rect x="501" y="616" width="1" height="17" fill="#c0c0c0"/>
<rect x="509" y="611" width="1" height="22" fill="#c0c0c0"/>
<rect x="517" y="606" width="1" height="27" fill="#c0c0c0"/>
<rect x="525" y="603" width="1" height="30" fill="#c0c0c0"/>
<rect x="533" y="601" width="1" height="32" fill="#c0c0c0"/>
<rect x="541" y="600" width="1" height="33" fill="#c0c0c0"/>
<rect x="549" y="602" width="1" height="31" fill="#c0c0c0"/>
<rect x="557" y="607" width="1" height="26" fill="#c0c0c0"/>
<rect x="565" y="610" width="1" height="23" fill="#c0c0c0"/>
<rect x="573" y="610" width="1" height="23" fill="#c0c0c0"/>
<rect x="581" y="611" width="1" height="22" fill="#c0c0c0"/>
<rect x="589" y="613" width="1" height="20" fill="#c0c0c0"/>
<rect x="597" y="618" width="1" height="15" fill="#c0c0c0"/>
<rect x="605" y="624" width="1" height="9" fill="#c0c0c0"/>
<rect x="613" y="628" width="1" height="5" fill="#c0c0c0"/>
<rect x="621" y="628" width="1" height="5" fill="#c0c0c0"/>
<rect x="629" y="628" width="1" height="5" fill="#c0c0c0"/>
<rect x="637" y="630" width="1" height="3" fill="#c0c0c0"/>
<rect x="645" y="632" width="1" height="1" fill="#c0c0c0"/>
<rect x="653" y="632" width="1" height="3" fill="#c0c0c0"/>
<rect x="661" y="632" width="1" height="5" fill="#c0c0c0"/>
<rect x="669" y="632" width="1" height="8" fill="#c0c0c0"/>
<rect x="677" y="632" width="1" height="8" fill="#c0c0c0"/>
<rect x="685" y="632" width="1" height="6" fill="#c0c0c0"/>
<rect x="693" y="632" width="1" height="5" fill="#c0c0c0"/>
<rect x="701" y="632" width="1" height="3" fill="#c0c0c0"/>
<rect x="709" y="632" width="1" height="2" fill="#c0c0c0"/>
<rect x="717" y="632" width="1" height="1" fill="#c0c0c0"/>
<rect x="725" y="630" width="1" height="3" fill="#c0c0c0"/>
<rect x="733" y="627" width="1" height="6" fill="#c0c0c0"/>
<rect x="741" y="625" width="1" height="8" fill="#c0c0c0"/>
<rect x="749" y="622" width="1" height="11" fill="#c0c0c0"/>
<rect x="757" y="621" width="1" height="12" fill="#c0c0c0"/>
<rect x="765" y="621" width="1" height="12" fill="#c0c0c0"/>
<rect x="773" y="621" width="1" height="12" fill="#c0c0c0"/>
<rect x="781" y="621" width="1" height="12" fill="#c0c0c0"/>
<rect x="789" y="622" width="1" height="11" fill="#c0c0c0"/>
<rect x="797" y="622" width="1" height="11" fill="#c0c0c0"/>
<rect x="805" y="623" width="1" height="10" fill="#c0c0c0"/>
<rect x="813" y="621" width="1" height="12" fill="#c0c0c0"/>
<rect x="821" y="618" width="1" height="15" fill="#c0c0c0"/>
<rect x="829" y="616" width="1" height="17" fill="#c0c0c0"/>
<rect x="837" y="614" width="1" height="19" fill="#c0c0c0"/>
<rect x="845" y="612" width="1" height="21" fill="#c0c0c0"/>
<rect x="853" y="610" width="1" height="23" fill="#c0c0c0"/>
<rect x="861" y="607" width="1" height="26" fill="#c0c0c0"/>
<rect x="869" y="604" width="1" height="29" fill="#c0c0c0"/>
<rect x="877" y="600" width="1" height="33" fill="#c0c0c0"/>
<rect x="885" y="595" width="1" height="38" fill="#c0c0c0"/>
<rect x="893" y="591" width="1" height="42" fill="#c0c0c0"/>
<rect x="901" y="589" width="1" height="44" fill="#c0c0c0"/>
<rect x="909" y="588" width="1" height="45" fill="#c0c0c0"/>
<rect x="917" y="588" width="1" height="45" fill="#c0c0c0"/>
<rect x="925" y="587" width="1" height="46" fill="#c0c0c0"/>
<rect x="933" y="587" width="1" height="46" fill="#c0c0c0"/>
<rect x="941" y="589" width="1" height="44" fill="#c0c0c0"/>
<rect x="949" y="591" width="1" height="42" fill="#c0c0c0"/>
<rect x="957" y="593" width="1" height="40" fill="#c0c0c0"/>
<rect x="965" y="596" width="1" height="37" fill="#c0c0c0"/>
<rect x="973" y="598" width="1" height="35" fill="#c0c0c0"/>
<rect x="981" y="600" width="1" height="33" fill="#c0c0c0"/>
<rect x="989" y="601" width="1" height="32" fill="#c0c0c0"/>
<rect x="997" y="602" width="1" height="31" fill="#c0c0c0"/>
<rect x="1005" y="603" width="1" height="30" fill="#c0c0c0"/>
<rect x="1013" y="600" width="1" height="33" fill="#c0c0c0"/>
<rect x="1021" y="602" width="1" height="31" fill="#c0c0c0"/>
<rect x="1029" y="602" width="1" height="31" fill="#c0c0c0"/>
<rect x="1037" y="604" width="1" height="29" fill="#c0c0c0"/>
<rect x="1045" y="607" width="1" height="26" fill="#c0c0c0"/>
<rect x="1053" y="610" width="1" height="23" fill="#c0c0c0"/>
<rect x="1061" y="610" width="1" height="23" fill="#c0c0c0"/>
<rect x="1069" y="609" width="1" height="24" fill="#c0c0c0"/>
<rect x="1077" y="609" width="1" height="24" fill="#c0c0c0"/>
<rect x="1085" y="606" width="1" height="27" fill="#c0c0c0"/>
<rect x="1093" y="604" width="1" height="29" fill="#c0c0c0"/>
<rect x="1101" y="602" width="1" height="31" fill="#c0c0c0"/>
<rect x="1109" y="600" width="1" height="33" fill="#c0c0c0"/>
<rect x="1117" y="600" width="1" height="33" fill="#c0c0c0"/>
<rect x="1125" y="602" width="1" height="31" fill="#c0c0c0"/>
<rect x="1133" y="604" width="1" height="29" fill="#c0c0c0"/>
<rect x="1141" y="607" width="1" height="26" fill="#c0c0c0"/>
<rect x="1149" y="611" width="1" height="22" fill="#c0c0c0"/>
<rect x="1157" y="619" width="1" height="14" fill="#c0c0c0"/>
<rect x="1165" y="625" width="1" height="8" fill="#c0c0c0"/>
<rect x="1173" y="632" width="1" height="2" fill="#c0c0c0"/>
<rect x="1181" y="632" width="1" height="10" fill="#c0c0c0"/>
<rect x="1189" y="632" width="1" height="15" fill="#c0c0c0"/>
<rect x="1197" y="632" width="1" height="18" fill="#c0c0c0"/>
<rect x="1205" y="632" width="1" height="20" fill="#c0c0c0"/>
<rect x="1213" y="632" width="1" height="19" fill="#c0c0c0"/>
<rect x="1221" y="632" width="1" height="17" fill="#c0c0c0"/>
<rect x="1229" y="632" width="1" height="17" fill="#c0c0c0"/>
<rect x="1237" y="632" width="1" height="17" fill="#c0c0c0"/>
<rect x="1245" y="632" width="1" height="19" fill="#c0c0c0"/>
<rect x="1253" y="632" width="1" height="23" fill="#c0c0c0"/>
<rect x="1261" y="632" width="1" height="26" fill="#c0c0c0"/>
<rect x="1269" y="632" width="1" height="27" fill="#c0c0c0"/>
<rect x="1277" y="632" width="1" height="28" fill="#c0c0c0"/>
<rect x="1285" y="632" width="1" height="28" fill="#c0c0c0"/>
<rect x="1293" y="632" width="1" height="24" fill="#c0c0c0"/>
<rect x="1301" y="632" width="1" height="22" fill="#c0c0c0"/>
<rect x="1309" y="632" width="1" height="19" fill="#c0c0c0"/>
<rect x="1317" y="632" width="1" height="16" fill="#c0c0c0"/>
<rect x="1325" y="632" width="1" height="13" fill="#c0c0c0"/>
<rect x="1333" y="632" width="1" height="11" fill="#c0c0c0"/>
<rect x="1341" y="632" width="1" height="8" fill="#c0c0c0"/>
<rect x="1349" y="632" width="1" height="7" fill="#c0c0c0"/>
<rect x="1357" y="632" width="1" height="6" fill="#c0c0c0"/>
<rect x="1365" y="632" width="1" height="5" fill="#c0c0c0"/>
<rect x="1373" y="632" width="1" height="1" fill="#c0c0c0"/>
<rect x="1381" y="631" width="1" height="2" fill="#c0c0c0"/>
<rect x="1389" y="628" width="1" height="5" fill="#c0c0c0"/>
<rect x="1397" y="629" width="1" height="4" fill="#c0c0c0"/>
<rect x="1405" y="628" width="1" height="5" fill="#c0c0c0"/>
<rect x="1413" y="629" width="1" height="4" fill="#c0c0c0"/>
<rect x="1421" y="630" width="1" height="3" fill="#c0c0c0"/>
<rect x="1429" y="631" width="1" height="2" fill="#c0c0c0"/>
<rect x="1437" y="631" width="1" height="2" fill="#c0c0c0"/>
<rect x="1445" y="631" width="1" height="2" fill="#c0c0c0"/>
<rect x="1453" y="627" width="1" height="6" fill="#c0c0c0"/>
<rect x="1461" y="625" width="1" height="8" fill="#c0c0c0"/>
<rect x="1469" y="624" width="1" height="9" fill="#c0c0c0"/>
<rect x="1477" y="623" width="1" height="10" fill="#c0c0c0"/>
<rect x="1485" y="624" width="1" height="9" fill="#c0c0c0"/>
<rect x="1493" y="624" width="1" height="9" fill="#c0c0c0"/>
<rect x="1501" y="625" width="1" height="8" fill="#c0c0c0"/>
<rect x="1509" y="628" width="1" height="5" fill="#c0c0c0"/>
</g>
<polyline fill="none" stroke="#ff0000" stroke-width="1" stroke-dasharray="4 3" shape-rendering="crispEdges" points="-2.5,688.4 5.5,698.9 13.5,707.9 21.5,715.3 29.5,720.4 37.5,722.4 45.5,720.8 53.5,716.2 61.5,709.3 69.5,701.1 77.5,691.7 85.5,682.4 93.5,673.6 101.5,666.1 109.5,660.2 117.5,655.3 125.5,651.0 133.5,647.3 141.5,643.9 149.5,640.5 157.5,637.1 165.5,633.7 173.5,630.4 181.5,627.4 189.5,625.0 197.5,623.7 205.5,623.1 213.5,623.2 221.5,624.1 229.5,625.4 237.5,626.6 245.5,627.8 253.5,628.9 261.5,629.4 269.5,629.4 277.5,629.1 285.5,628.6 293.5,627.9 301.5,627.6 309.5,627.5 317.5,627.6 325.5,627.8 333.5,628.7 341.5,630.1 349.5,631.8 357.5,633.6 365.5,635.9 373.5,638.3 381.5,640.5 389.5,642.6 397.5,644.6 405.5,646.3 413.5,647.7 421.5,648.7 429.5,649.5 437.5,649.3 445.5,648.5 453.5,647.4 461.5,646.1 469.5,644.7 477.5,642.8 485.5,640.1 493.5,636.9 501.5,633.3 509.5,629.5 517.5,625.4 525.5,621.2 533.5,617.0 541.5,613.0 549.5,609.8 557.5,607.8 565.5,606.7 573.5,606.0 581.5,606.0 589.5,606.8 597.5,608.5 605.5,611.0 613.5,614.2 621.5,617.1 629.5,619.5 637.5,621.7 645.5,624.2 653.5,626.8 661.5,629.5 669.5,631.9 677.5,633.8 685.5,634.9 693.5,635.8 701.5,636.6 709.5,637.1 717.5,637.2 725.5,636.7 733.5,635.5 741.5,633.8 749.5,631.8 757.5,629.9 765.5,628.1 773.5,626.6 781.5,625.1 789.5,623.9 797.5,623.0 805.5,622.5 813.5,622.1 821.5,621.6 829.5,621.1 837.5,620.3 845.5,619.3 853.5,618.1 861.5,616.5 869.5,614.4 877.5,612.0 885.5,609.1 893.5,606.1 901.5,603.1 909.5,600.2 917.5,597.5 925.5,594.9 933.5,592.6 941.5,591.0 949.5,590.0 957.5,589.8 965.5,590.3 973.5,591.3 981.5,592.5 989.5,594.0 997.5,595.6 1005.5,597.4 1013.5,598.6 1021.5,599.8 1029.5,600.8 1037.5,601.8 1045.5,602.8 1053.5,603.9 1061.5,604.9 1069.5,605.8 1077.5,606.5 1085.5,607.1 1093.5,607.3 1101.5,607.3 1109.5,606.8 1117.5,606.0 1125.5,605.2 1133.5,604.5 1141.5,604.2 1149.5,604.4 1157.5,605.9 1165.5,608.3 1173.5,611.9 1181.5,616.5 1189.5,621.8 1197.5,627.1 1205.5,632.4 1213.5,637.3 1221.5,641.5 1229.5,644.9 1237.5,647.5 1245.5,649.4 1253.5,650.8 1261.5,652.0 1269.5,652.9 1277.5,653.8 1285.5,654.8 1293.5,655.6 1301.5,656.1 1309.5,656.3 1317.5,656.0 1325.5,654.9 1333.5,653.3 1341.5,651.2 1349.5,649.0 1357.5,646.6 1365.5,644.4 1373.5,642.1 1381.5,639.9 1389.5,637.6 1397.5,635.7 1405.5,634.0 1413.5,632.9 1421.5,631.9 1429.5,631.1 1437.5,630.4 1445.5,630.2 1453.5,629.7 1461.5,629.4 1469.5,628.9 1477.5,628.4 1485.5,627.8 1493.5,627.1 1501.5,626.4 1509.5,626.1"/>
<line x1="0" y1="785.5" x2="1687" y2="785.5" stroke="#c0c0c0" stroke-width="1" stroke-dasharray="3 3"/>
<line x1="0" y1="836.5" x2="1687" y2="836.5" stroke="#c0c0c0" stroke-width="1" stroke-dasharray="3 3"/>
<line x1="0" y1="897.5" x2="1687" y2="897.5" stroke="#c0c0c0" stroke-width="1" stroke-dasharray="3 3"/>
<polyline fill="none" stroke="#1e90ff" stroke-width="1" shape-rendering="crispEdges" points="-2.5,882.1 5.5,883.5 13.5,867.9 21.5,863.4 29.5,842.7 37.5,829.7 45.5,831.0 53.5,835.2 61.5,833.4 69.5,834.9 77.5,834.1 85.5,841.0 93.5,844.1 101.5,842.8 109.5,836.2 117.5,832.7 125.5,828.8 133.5,828.6 141.5,824.5 149.5,818.3 157.5,827.4 165.5,829.9 173.5,829.9 181.5,829.9 189.5,834.4 197.5,845.8 205.5,843.9 213.5,840.8 221.5,840.9 229.5,839.8 237.5,833.4 245.5,832.3 253.5,828.5 261.5,818.2 269.5,829.8 277.5,833.5 285.5,834.6 293.5,834.3 301.5,847.6 309.5,841.3 317.5,837.1 325.5,836.6 333.5,846.2 341.5,854.0 349.5,855.1 357.5,855.6 365.5,866.0 373.5,868.3 381.5,851.5 389.5,844.6 397.5,846.6 405.5,847.9 413.5,853.3 421.5,851.3 429.5,849.1 437.5,831.5 445.5,839.7 453.5,833.0 461.5,833.0 469.5,830.3 477.5,815.3 485.5,807.6 493.5,809.0 501.5,806.5 509.5,801.8 517.5,798.2 525.5,797.5 533.5,802.0 541.5,801.6 549.5,825.0 557.5,835.6 565.5,833.3 573.5,820.1 581.5,827.4 589.5,831.3 597.5,845.1 605.5,851.3 613.5,851.9 621.5,834.8 629.5,832.4 637.5,843.7 645.5,842.2 653.5,849.7 661.5,850.0 669.5,852.7 677.5,842.9 685.5,834.5 693.5,834.6 701.5,832.7 709.5,833.9 717.5,830.8 725.5,825.0 733.5,817.4 741.5,819.0 749.5,816.6 757.5,816.9 765.5,829.9 773.5,827.2 781.5,824.4 789.5,830.1 797.5,828.8 805.5,828.9 813.5,815.3 821.5,807.6 829.5,808.9 837.5,808.7 845.5,802.2 853.5,801.7 861.5,793.1 869.5,790.4 877.5,786.6 885.5,779.3 893.5,781.4 901.5,783.1 909.5,788.3 917.5,787.7 925.5,784.9 933.5,784.2 941.5,806.1 949.5,805.9 957.5,803.4 965.5,809.4 973.5,810.1 981.5,807.0 989.5,804.4 997.5,802.4 1005.5,802.4 1013.5,787.9 1021.5,818.7 1029.5,808.1 1037.5,826.8 1045.5,827.1 1053.5,830.2 1061.5,821.2 1069.5,814.6 1077.5,817.2 1085.5,805.2 1093.5,804.3 1101.5,803.7 1109.5,800.9 1117.5,810.2 1125.5,823.3 1133.5,820.8 1141.5,827.5 1149.5,838.3 1157.5,857.7 1165.5,853.1 1173.5,866.8 1181.5,867.8 1189.5,865.4 1197.5,860.2 1205.5,855.4 1213.5,846.1 1221.5,844.2 1229.5,849.1 1237.5,848.3 1245.5,859.4 1253.5,865.1 1261.5,867.1 1269.5,860.3 1277.5,862.9 1285.5,857.7 1293.5,842.6 1301.5,843.5 1309.5,837.2 1317.5,840.8 1325.5,834.5 1333.5,835.7 1341.5,828.8 1349.5,840.8 1357.5,837.5 1365.5,834.4 1373.5,822.8 1381.5,824.5 1389.5,820.7 1397.5,838.1 1405.5,829.5 1413.5,841.7 1421.5,838.4 1429.5,840.0 1437.5,836.4 1445.5,835.4 1453.5,817.1 1461.5,823.9 1469.5,829.4 1477.5,827.0 1485.5,832.8 1493.5,830.7 1501.5,836.3 1509.5,844.1"/>
<g id="objects">
<line x1="1266.0" y1="242.5" x2="1450.0" y2="146.7" stroke="#ff0000" stroke-width="3.6"/>
<polygon fill="#ff0000" points="1458.0,142.5 1450.6,152.0 1445.9,143.1"/>
<line x1="1453.6" y1="133.5" x2="1523.6" y2="201.4" stroke="#ff0000" stroke-width="2.7"/>
<polygon fill="#ff0000" points="1529.0,206.6 1519.3,203.0 1525.1,197.0"/>
<rect x="1289" y="170" width="249" height="8" fill="#00ff00"/>
<rect x="462.5" y="209.5" width="61.0" height="17.0" fill="#fff" stroke="#ff0000" stroke-width="1"/>
<text x="493.0" y="224.4" font-size="16.3px" fill="#ff0000" text-anchor="middle" textLength="57.5" lengthAdjust="spacingAndGlyphs">1.28107</text>
<rect x="524.0" y="218" width="11.0" height="1" fill="#ff0000"/>
<rect x="598.5" y="348.5" width="61.0" height="17.0" fill="#fff" stroke="#ff0000" stroke-width="1"/>
<text x="629.0" y="363.4" font-size="16.3px" fill="#ff0000" text-anchor="middle" textLength="57.5" lengthAdjust="spacingAndGlyphs">1.22605</text>
<rect x="660.0" y="357" width="9.0" height="1" fill="#ff0000"/>
<rect x="768.5" y="163.5" width="73.0" height="24.0" fill="#fff" stroke="#ff0000" stroke-width="1"/>
<text x="805.0" y="184.1" font-size="22.5px" fill="#ff0000" text-anchor="middle" textLength="69.5" lengthAdjust="spacingAndGlyphs">1.29812</text>
<rect x="763.0" y="175" width="5.0" height="1" fill="#ff0000"/>
<rect x="1182.5" y="244.5" width="61.0" height="17.0" fill="#fff" stroke="#ff0000" stroke-width="1"/>
<text x="1213.0" y="259.4" font-size="16.3px" fill="#ff0000" text-anchor="middle" textLength="57.5" lengthAdjust="spacingAndGlyphs">1.26724</text>
<rect x="1244.0" y="253" width="10.0" height="1" fill="#ff0000"/>
<rect x="1382.5" y="117.5" width="61.0" height="17.0" fill="#fff" stroke="#ff0000" stroke-width="1"/>
<text x="1413.0" y="132.4" font-size="16.3px" fill="#ff0000" text-anchor="middle" textLength="57.5" lengthAdjust="spacingAndGlyphs">1.31756</text>
<rect x="1444.0" y="126" width="9.0" height="1" fill="#ff0000"/>
<rect x="1542.5" y="148.5" width="110" height="24" fill="none" stroke="#505050" stroke-width="1" shape-rendering="crispEdges"/>
<text x="1543.5" y="166.6" font-size="21px" font-weight="300" fill="#28f028" style="font-family:'Liberation Serif','Noto Serif CJK SC',serif" textLength="106" lengthAdjust="spacing">多空转折点</text>
<rect x="1595.5" y="146.5" width="2" height="2" fill="none" stroke="#ff40ff" stroke-width="0.8"/>
<rect x="-3" y="153" width="5" height="5" fill="#ff0000" shape-rendering="crispEdges"/><rect x="-2" y="154" width="3" height="3" fill="#fff" shape-rendering="crispEdges"/>
<rect x="1682" y="153" width="5" height="5" fill="#ff0000" shape-rendering="crispEdges"/><rect x="1683" y="154" width="3" height="3" fill="#fff" shape-rendering="crispEdges"/>
<rect x="-3" y="173" width="5" height="5" fill="#32cd32" shape-rendering="crispEdges"/><rect x="-2" y="174" width="3" height="3" fill="#fff" shape-rendering="crispEdges"/>
<rect x="1682" y="173" width="5" height="5" fill="#32cd32" shape-rendering="crispEdges"/><rect x="1683" y="174" width="3" height="3" fill="#fff" shape-rendering="crispEdges"/>
<rect x="-3" y="238" width="5" height="5" fill="#0000ff" shape-rendering="crispEdges"/><rect x="-2" y="239" width="3" height="3" fill="#fff" shape-rendering="crispEdges"/>
<rect x="1682" y="238" width="5" height="5" fill="#0000ff" shape-rendering="crispEdges"/><rect x="1683" y="239" width="3" height="3" fill="#fff" shape-rendering="crispEdges"/>
</g>
<g id="frames" shape-rendering="crispEdges" fill="#000">
<rect x="0" y="22" width="1688" height="1"/>
<rect x="1687" y="22" width="1" height="902"/>
<rect x="0" y="575" width="1688" height="1"/>
<rect x="0" y="577" width="1688" height="1"/>
<rect x="0" y="747" width="1688" height="1"/>
<rect x="0" y="749" width="1688" height="1"/>
<rect x="0" y="923" width="1688" height="1"/>
<rect x="0" y="576" width="1734" height="1" fill="#fff"/>
<rect x="0" y="748" width="1734" height="1" fill="#fff"/>
<rect x="1688" y="44" width="2" height="1"/>
<rect x="1688" y="77" width="2" height="1"/>
<rect x="1688" y="110" width="2" height="1"/>
<rect x="1688" y="143" width="2" height="1"/>
<rect x="1688" y="176" width="2" height="1"/>
<rect x="1688" y="209" width="2" height="1"/>
<rect x="1688" y="242" width="2" height="1"/>
<rect x="1688" y="275" width="2" height="1"/>
<rect x="1688" y="308" width="2" height="1"/>
<rect x="1688" y="341" width="2" height="1"/>
<rect x="1688" y="374" width="2" height="1"/>
<rect x="1688" y="407" width="2" height="1"/>
<rect x="1688" y="440" width="2" height="1"/>
<rect x="1688" y="473" width="2" height="1"/>
<rect x="1688" y="506" width="2" height="1"/>
<rect x="1688" y="539" width="2" height="1"/>
<rect x="1688" y="572" width="2" height="1"/>
<rect x="1688" y="632" width="2" height="1"/>
<rect x="1688" y="579" width="2" height="1"/>
<rect x="1688" y="746" width="2" height="1"/>
<rect x="1688" y="751" width="2" height="1"/>
<rect x="1688" y="921" width="2" height="1"/>
<rect x="61" y="924" width="1" height="3"/>
<rect x="125" y="924" width="1" height="3"/>
<rect x="189" y="924" width="1" height="3"/>
<rect x="253" y="924" width="1" height="3"/>
<rect x="317" y="924" width="1" height="3"/>
<rect x="381" y="924" width="1" height="3"/>
<rect x="445" y="924" width="1" height="3"/>
<rect x="509" y="924" width="1" height="3"/>
<rect x="573" y="924" width="1" height="3"/>
<rect x="637" y="924" width="1" height="3"/>
<rect x="701" y="924" width="1" height="3"/>
<rect x="765" y="924" width="1" height="3"/>
<rect x="829" y="924" width="1" height="3"/>
<rect x="893" y="924" width="1" height="3"/>
<rect x="957" y="924" width="1" height="3"/>
<rect x="1021" y="924" width="1" height="3"/>
<rect x="1085" y="924" width="1" height="3"/>
<rect x="1149" y="924" width="1" height="3"/>
<rect x="1213" y="924" width="1" height="3"/>
<rect x="1277" y="924" width="1" height="3"/>
<rect x="1341" y="924" width="1" height="3"/>
<rect x="1405" y="924" width="1" height="3"/>
<rect x="1469" y="924" width="1" height="3"/>
</g>
<g class="ax">
<text class="ax" transform="translate(1693.5,48.5) rotate(0.03) scale(0.937,1)" >1.35020</text>
<text class="ax" transform="translate(1693.5,81.4) rotate(0.03) scale(0.937,1)" >1.33725</text>
<text class="ax" transform="translate(1693.5,114.4) rotate(0.03) scale(0.937,1)" >1.32395</text>
<text class="ax" transform="translate(1693.5,147.3) rotate(0.03) scale(0.937,1)" >1.31100</text>
<text class="ax" transform="translate(1693.5,213.2) rotate(0.03) scale(0.937,1)" >1.28475</text>
<text class="ax" transform="translate(1693.5,246.1) rotate(0.03) scale(0.937,1)" >1.27145</text>
<text class="ax" transform="translate(1693.5,279.1) rotate(0.03) scale(0.937,1)" >1.25850</text>
<text class="ax" transform="translate(1693.5,312.0) rotate(0.03) scale(0.937,1)" >1.24520</text>
<text class="ax" transform="translate(1693.5,345.0) rotate(0.03) scale(0.937,1)" >1.23225</text>
<text class="ax" transform="translate(1693.5,377.9) rotate(0.03) scale(0.937,1)" >1.21930</text>
<text class="ax" transform="translate(1693.5,410.8) rotate(0.03) scale(0.937,1)" >1.20600</text>
<text class="ax" transform="translate(1693.5,443.8) rotate(0.03) scale(0.937,1)" >1.19305</text>
<text class="ax" transform="translate(1693.5,476.7) rotate(0.03) scale(0.937,1)" >1.17975</text>
<text class="ax" transform="translate(1693.5,509.7) rotate(0.03) scale(0.937,1)" >1.16680</text>
<text class="ax" transform="translate(1693.5,542.6) rotate(0.03) scale(0.937,1)" >1.15350</text>
<text class="ax" transform="translate(1693.5,575.5) rotate(0.03) scale(0.937,1)" >1.14055</text>
<text class="ax" transform="translate(1691.5,588.0) rotate(0.03) scale(0.937,1)" >0.017833</text>
<text class="ax" transform="translate(1691.5,636.0) rotate(0.03) scale(0.937,1)" >0.00</text>
<text class="ax" transform="translate(1691.0,744.0) rotate(0.03) scale(0.937,1)" >-0.038559</text>
<text class="ax" transform="translate(1691.5,760.0) rotate(0.03) scale(0.937,1)" >100</text>
<text class="ax" transform="translate(1690.0,788.7) rotate(0.03) scale(0.937,1)" >80</text>
<text class="ax" transform="translate(1690.0,840.0) rotate(0.03) scale(0.937,1)" >50</text>
<text class="ax" transform="translate(1690.0,900.7) rotate(0.03) scale(0.937,1)" >15</text>
<text class="ax" transform="translate(1691.5,919.8) rotate(0.03) scale(0.937,1)" >0</text>
<text class="ax" transform="translate(-3.5,936.4) rotate(0.03) scale(0.953,1)" >12 Mar 2020</text>
<text class="ax" transform="translate(60.5,936.4) rotate(0.03) scale(0.953,1)" >31 Mar 2020</text>
<text class="ax" transform="translate(124.5,936.4) rotate(0.03) scale(0.953,1)" >9 Apr 2020</text>
<text class="ax" transform="translate(188.5,936.4) rotate(0.03) scale(0.953,1)" >20 Apr 2020</text>
<text class="ax" transform="translate(252.5,936.4) rotate(0.03) scale(0.953,1)" >29 Apr 2020</text>
<text class="ax" transform="translate(316.5,936.4) rotate(0.03) scale(0.953,1)" >8 May 2020</text>
<text class="ax" transform="translate(380.5,936.4) rotate(0.03) scale(0.953,1)" >18 May 2020</text>
<text class="ax" transform="translate(444.5,936.4) rotate(0.03) scale(0.953,1)" >27 May 2020</text>
<text class="ax" transform="translate(508.5,936.4) rotate(0.03) scale(0.953,1)" >5 Jun 2020</text>
<text class="ax" transform="translate(572.5,936.4) rotate(0.03) scale(0.953,1)" >15 Jun 2020</text>
<text class="ax" transform="translate(636.5,936.4) rotate(0.03) scale(0.953,1)" >24 Jun 2020</text>
<text class="ax" transform="translate(700.5,936.4) rotate(0.03) scale(0.953,1)" >3 Jul 2020</text>
<text class="ax" transform="translate(764.5,936.4) rotate(0.03) scale(0.953,1)" >13 Jul 2020</text>
<text class="ax" transform="translate(828.5,936.4) rotate(0.03) scale(0.953,1)" >22 Jul 2020</text>
<text class="ax" transform="translate(892.5,936.4) rotate(0.03) scale(0.953,1)" >31 Jul 2020</text>
<text class="ax" transform="translate(956.5,936.4) rotate(0.03) scale(0.953,1)" >10 Aug 2020</text>
<text class="ax" transform="translate(1020.5,936.4) rotate(0.03) scale(0.953,1)" >19 Aug 2020</text>
<text class="ax" transform="translate(1084.5,936.4) rotate(0.03) scale(0.953,1)" >28 Aug 2020</text>
<text class="ax" transform="translate(1148.5,936.4) rotate(0.03) scale(0.953,1)" >7 Sep 2020</text>
<text class="ax" transform="translate(1212.5,936.4) rotate(0.03) scale(0.953,1)" >16 Sep 2020</text>
<text class="ax" transform="translate(1276.5,936.4) rotate(0.03) scale(0.953,1)" >25 Sep 2020</text>
<text class="ax" transform="translate(1340.5,936.4) rotate(0.03) scale(0.953,1)" >5 Oct 2020</text>
<text class="ax" transform="translate(1404.5,936.4) rotate(0.03) scale(0.953,1)" >14 Oct 2020</text>
<text class="ax" transform="translate(1468.5,936.4) rotate(0.03) scale(0.953,1)" >23 Oct 2020</text>
<text class="ax" transform="translate(1.3,590.2) rotate(0.03)" textLength="147.5" lengthAdjust="spacingAndGlyphs">MACD(12,26,9) 0.001480 0.002156</text>
<text class="ax" transform="translate(1.3,762.1) rotate(0.03)" textLength="67.5" lengthAdjust="spacingAndGlyphs">RSI(14) 45.7398</text>
<text class="ax" transform="translate(12,34) rotate(0.03)" textLength="213.5" lengthAdjust="spacingAndGlyphs">GBPUSD-,Daily&#160;&#160;1.29877 1.30247 1.28800 1.29232</text>
</g>
<polygon points="0,33 7,33 3.5,28.5" fill="#000"/>
<rect x="1689" y="134" width="41" height="11" fill="#ff4500" shape-rendering="crispEdges"/>
<text transform="translate(1693.5,142.4) rotate(0.03) scale(0.937,1)" font-size="9.6px" fill="#fff" stroke="#fff" stroke-width="0.2">1.31200</text>
<rect x="1689" y="149" width="41" height="11" fill="#ff0000" shape-rendering="crispEdges"/>
<text transform="translate(1693.5,157.4) rotate(0.03) scale(0.937,1)" font-size="9.6px" fill="#fff" stroke="#fff" stroke-width="0.2">1.30605</text>
<rect x="1689" y="169" width="41" height="11" fill="#32cd32" shape-rendering="crispEdges"/>
<text transform="translate(1693.5,177.4) rotate(0.03) scale(0.937,1)" font-size="9.6px" fill="#fff" stroke="#fff" stroke-width="0.2">1.29812</text>
<rect x="1689" y="185" width="41" height="11" fill="#000000" shape-rendering="crispEdges"/>
<text transform="translate(1693.5,193.4) rotate(0.03) scale(0.937,1)" font-size="9.6px" fill="#fff" stroke="#fff" stroke-width="0.2">1.29232</text>
<rect x="1689" y="212" width="41" height="11" fill="#0000ff" shape-rendering="crispEdges"/>
<text transform="translate(1693.5,220.4) rotate(0.03) scale(0.937,1)" font-size="9.6px" fill="#fff" stroke="#fff" stroke-width="0.2">1.28107</text>
<rect x="1689" y="234" width="41" height="11" fill="#0000ff" shape-rendering="crispEdges"/>
<text transform="translate(1693.5,242.4) rotate(0.03) scale(0.937,1)" font-size="9.6px" fill="#fff" stroke="#fff" stroke-width="0.2">1.27235</text>
<polygon points="1512,23 1522,23 1517,28" fill="#b0b0b0"/>
<rect x="1733" y="20" width="1" height="920" fill="#d8d8d8"/>
<g id="oneclick">
<rect x="0" y="42" width="219" height="64" fill="#fff"/>
<rect x="0" y="42" width="52" height="25" fill="#0000b4"/>
<rect x="167" y="42" width="52" height="25" fill="#0000b4"/>
<rect x="0" y="66" width="109" height="40" fill="#0000a8"/>
<rect x="111" y="66" width="108" height="40" fill="#0000a8"/>
<rect x="1" y="43" width="50" height="24" fill="url(#gs1)"/>
<rect x="168" y="43" width="50" height="24" fill="url(#gs1)"/>
<rect x="1" y="66" width="107" height="39" fill="url(#gs2)"/>
<rect x="112" y="66" width="106" height="39" fill="url(#gs2)"/>
<rect x="4" y="66" width="44" height="1" fill="#8c8cff"/>
<rect x="171" y="66" width="44" height="1" fill="#8c8cff"/>
<rect x="54.5" y="43.5" width="110" height="20" fill="#fff" stroke="#a8a8a8"/>
<rect x="55.5" y="44.5" width="20" height="18" fill="url(#gbtn)" stroke="#bcbcbc"/>
<rect x="143.5" y="44.5" width="20" height="18" fill="url(#gbtn)" stroke="#bcbcbc"/>
<polygon points="62.5,51 68.5,51 65.5,54.5" fill="#5060b0"/>
<polygon points="150.5,54.5 156.5,54.5 153.5,51" fill="#5060b0"/>
<text x="139.5" y="56.8" font-size="11.5px" text-anchor="end" fill="#000">1.00</text>
<text x="25.2" y="57.6" font-size="12px" text-anchor="middle" fill="#fff" textLength="25" lengthAdjust="spacingAndGlyphs">SELL</text>
<text x="192" y="57.6" font-size="12px" text-anchor="middle" fill="#fff" textLength="23" lengthAdjust="spacingAndGlyphs">BUY</text>
<text x="20.6" y="97" font-size="12px" font-weight="bold" fill="#fff">1.29</text>
<text x="130.6" y="97" font-size="12px" font-weight="bold" fill="#fff">1.29</text>
<text x="48" y="97" font-size="33.5px" fill="#fff" textLength="33" lengthAdjust="spacingAndGlyphs">23</text>
<text x="159.5" y="97" font-size="33.5px" fill="#fff" textLength="33.5" lengthAdjust="spacingAndGlyphs">26</text>
<text x="86.9" y="81" font-size="12px" font-weight="bold" fill="#fff">2</text>
<text x="198.3" y="81" font-size="12px" font-weight="bold" fill="#fff">6</text>
</g>
<g id="toolbar">
<rect x="0" y="0" width="1734" height="18" fill="#f0f0f0"/>
<rect x="0" y="18" width="1734" height="1" fill="#a6a6a6"/>
<rect x="0" y="19" width="1734" height="1" fill="#6a6a6a"/>
<rect x="0" y="20" width="1734" height="2" fill="#fff"/>
<g clip-path="url(#ctb)">
<rect x="-3" y="-3" width="13" height="15" fill="#fff" stroke="#4a7ac8" stroke-width="1.2"/>
<path d="M0 2H8M0 6H8" stroke="#9ab4ee" stroke-width="1"/><path d="M0 4H1.5" stroke="#e00000" stroke-width="1.4"/><path d="M0 0H1.5" stroke="#000" stroke-width="1.2"/>
<rect x="24.5" y="-3" width="10" height="14" fill="#f6f6f6" stroke="#a0a0a0"/>
<circle cx="31" cy="6" r="5" fill="#cfdcf2" fill-opacity="0.85" stroke="#6d9ae0" stroke-width="1.3"/>
<path d="M35 10.5L40 15" stroke="#d9a520" stroke-width="2.4" stroke-linecap="round"/>
<rect x="48" y="0" width="1" height="16" fill="#a0a0a0"/>
<path d="M58.5 -2H67L69.5 1V10.5H58.5Z" fill="#fdfdfd" stroke="#8a8a8a"/>
<path d="M60.5 4H66M60.5 6.5H66" stroke="#7a7a7a" stroke-width="1"/>
<path d="M66 5.2H70V8.5H73.8V12.3H70V15.7H66V12.3H62.3V8.5H66Z" fill="#19c519" stroke="#0a8a0a" stroke-width="0.8"/>
<text class="cj" x="76.5" y="8.7" font-size="13px" fill="#000" stroke="#000" stroke-width="0.25" textLength="36.5" lengthAdjust="spacingAndGlyphs">新订单</text>
<path d="M125 7L133 -1L141 7L133.5 13.5Z" fill="#e2b33c" stroke="#b07d10" stroke-width="0.8"/>
<path d="M127 8.5L134 14L140.5 8" fill="none" stroke="#9c6a08" stroke-width="1.2"/>
<path d="M129 4L134 0" stroke="#f7dc8a" stroke-width="1.6"/>
<rect x="155.5" y="-2" width="10" height="9" fill="#3f9cf0" stroke="#2370c8"/>
<path d="M159 2H164" stroke="#fff" stroke-width="1.2"/><path d="M158.5 -1V6" stroke="#fff" stroke-width="1"/>
<path d="M156.5 13.2a3 3 0 0 1 0.3-6a4.2 4.2 0 0 1 7.6-0.8a3.2 3.2 0 0 1 1.6 6.8z" fill="#eef2fa" stroke="#8aa0c8" stroke-width="1"/>
<circle cx="189.3" cy="5" r="7.2" fill="none" stroke="#8ca6e0" stroke-width="1.2"/>
<circle cx="189.3" cy="5" r="4.6" fill="none" stroke="#5d85d8" stroke-width="1.3"/>
<path d="M189.3 5A7.2 7.2 0 0 1 189.3 13.4Z" fill="#58b558"/>
<path d="M193 -1a7.2 7.2 0 0 1 -3.5 14.2" fill="none" stroke="#58b558" stroke-width="1.6"/>
<circle cx="189.3" cy="5" r="1.6" fill="#2c58c8"/>
<path d="M189.6 6V13.5" stroke="#1e9a1e" stroke-width="1.5"/>
<path d="M208.5 5.5L222 5.5L217 13L213.5 13Z" fill="#f3cb3c" stroke="#c79a12" stroke-width="0.8"/>
<ellipse cx="215.5" cy="2.5" rx="7.5" ry="3" fill="#4c9fe8" stroke="#2b78c8" stroke-width="0.8"/>
<path d="M211 1.5a4.5 4 0 0 1 9 0z" fill="#6cb4f2"/>
<circle cx="220.3" cy="9.6" r="4.3" fill="#d52b1e" stroke="#a01208" stroke-width="0.6"/>
<rect x="218.4" y="7.8" width="3.8" height="3.6" fill="#fff"/>
<text class="cj" x="230" y="8.7" font-size="13px" fill="#000" stroke="#000" stroke-width="0.25" textLength="46.5" lengthAdjust="spacingAndGlyphs">自动交易</text>
<rect x="284" y="0" width="1" height="18" fill="#a0a0a0"/>
<rect x="288" y="0" width="3" height="1" fill="#a8a8a8"/>
<rect x="288" y="2" width="3" height="1" fill="#a8a8a8"/>
<rect x="288" y="4" width="3" height="1" fill="#a8a8a8"/>
<rect x="288" y="6" width="3" height="1" fill="#a8a8a8"/>
<rect x="288" y="8" width="3" height="1" fill="#a8a8a8"/>
<rect x="288" y="10" width="3" height="1" fill="#a8a8a8"/>
<rect x="288" y="12" width="3" height="1" fill="#a8a8a8"/>
<rect x="288" y="14" width="3" height="1" fill="#a8a8a8"/>
<path d="M302.5 0V13.5M299.5 11.5H313.0" stroke="#505050" stroke-width="1.3" fill="none"/>
<path d="M312.5 9.5l2 2l-2 2z" fill="#505050"/>
<path d="M309.5 1.5V9M309.5 2H311.5M306.5 8.5H309.5" stroke="#119911" stroke-width="1.3" fill="none"/>
<rect x="322" y="0" width="1" height="16" fill="#a0a0a0"/>
<rect x="323" y="0" width="24" height="16" fill="#fafafa"/>
<path d="M330.5 0V13.5M327.5 11.5H341.0" stroke="#505050" stroke-width="1.3" fill="none"/>
<path d="M340.5 9.5l2 2l-2 2z" fill="#505050"/>
<rect x="334.5" y="-1" width="4" height="8.5" fill="#22cc22" stroke="#0a8a0a" stroke-width="0.8"/><path d="M336.5 7.5V9.8" stroke="#0a8a0a" stroke-width="1.2"/>
<path d="M358.5 0V13.5M355.5 11.5H369.0" stroke="#505050" stroke-width="1.3" fill="none"/>
<path d="M368.5 9.5l2 2l-2 2z" fill="#505050"/>
<path d="M357.5 8.5C361 4 363 2.5 364.5 3.2S367.5 6 369 7" stroke="#2a9a2a" stroke-width="1.2" fill="none"/>
<rect x="379" y="0" width="1" height="16" fill="#a0a0a0"/>
<path d="M398.7 8L403.5 13" stroke="#d4a41c" stroke-width="2.6" stroke-linecap="round"/>
<circle cx="394.2" cy="3.8" r="5.6" fill="#d6e6f8" stroke="#3b78d0" stroke-width="1.3"/>
<path d="M391.2 3.8H397.2" stroke="#2f6fc8" stroke-width="1.6"/>
<path d="M394.2 0.8V6.8" stroke="#2f6fc8" stroke-width="1.6"/>
<path d="M426.9 8L431.7 13" stroke="#d4a41c" stroke-width="2.6" stroke-linecap="round"/>
<circle cx="422.4" cy="3.8" r="5.6" fill="#d6e6f8" stroke="#3b78d0" stroke-width="1.3"/>
<path d="M419.4 3.8H425.4" stroke="#2f6fc8" stroke-width="1.6"/>
<rect x="444" y="-1" width="7.5" height="6.5" fill="#59b52a"/><rect x="452.5" y="-1" width="7.5" height="6.5" fill="#2f62d8"/>
<rect x="444" y="6.5" width="7.5" height="7" fill="#2f62d8"/><rect x="452.5" y="6.5" width="7.5" height="7" fill="#59b52a"/>
<path d="M445.5 2.5H450M454 2.5H458.5M445.5 10.5H450M454 10.5H458.5" stroke="#fff" stroke-width="1.6"/>
<rect x="469" y="0" width="1" height="16" fill="#a0a0a0"/>
<rect x="474" y="0" width="1" height="16" fill="#a0a0a0"/>
<rect x="475" y="0" width="24" height="16" fill="#fafafa"/>
<path d="M482.5 0V13.5M479.5 11.5H493.0" stroke="#505050" stroke-width="1.3" fill="none"/>
<path d="M492.5 9.5l2 2l-2 2z" fill="#505050"/>
<path d="M487 2.5L491 5.5L487 8.5Z" fill="#44cc44" stroke="#119911" stroke-width="0.9"/>
<rect x="502" y="0" width="1" height="16" fill="#a0a0a0"/>
<rect x="503" y="0" width="24" height="16" fill="#fafafa"/>
<path d="M510.5 0V13.5M507.5 11.5H521.0" stroke="#505050" stroke-width="1.3" fill="none"/>
<path d="M520.5 9.5l2 2l-2 2z" fill="#505050"/>
<path d="M516.5 0V9.5" stroke="#2a70c8" stroke-width="1.2"/>
<path d="M517.5 5.5L521 3.2V4.8H522V6.2H521V7.8Z" fill="#e04a10"/>
<rect x="531" y="0" width="1" height="16" fill="#a0a0a0"/>
<path d="M541.5 -2H550L552.5 1V10.5H541.5Z" fill="#fdfdfd" stroke="#8a8a8a"/>
<path d="M543.5 3V8" stroke="#7a7a7a" stroke-width="1"/>
<path d="M549 4.7H553V8H556.8V11.8H553V15.5H549V11.8H545.3V8H549Z" fill="#19c519" stroke="#0a8a0a" stroke-width="0.8"/>
<polygon points="562.5,5 568.5,5 565.5,8.5" fill="#000"/>
<circle cx="587" cy="6" r="7" fill="#f4f6fa" stroke="#2a72d4" stroke-width="2.2"/>
<path d="M587 2.5V6.2H590" stroke="#404040" stroke-width="1.1" fill="none"/>
<polygon points="602.0,5 608.0,5 605.0,8.5" fill="#000"/>
<rect x="618.5" y="-1" width="15" height="13" fill="#fff" stroke="#3c78c8" stroke-width="1.3"/>
<rect x="618" y="-1" width="16" height="2" fill="#5a96e0"/>
<path d="M619 6.5H633" stroke="#3c78c8" stroke-width="0.8"/>
<path d="M620 5L623 4L626 3.5L628 4.5L632 3.2" stroke="#b02010" stroke-width="1.2" fill="none"/>
<path d="M620 10.5L623 9.5L626 10L629 8L632 10" stroke="#1a9a1a" stroke-width="1.2" fill="none"/>
<polygon points="640.5,5 646.5,5 643.5,8.5" fill="#000"/>
<rect x="652" y="0" width="1" height="18" fill="#a0a0a0"/>
<rect x="656" y="0" width="3" height="1" fill="#a8a8a8"/>
<rect x="656" y="2" width="3" height="1" fill="#a8a8a8"/>
<rect x="656" y="4" width="3" height="1" fill="#a8a8a8"/>
<rect x="656" y="6" width="3" height="1" fill="#a8a8a8"/>
<rect x="656" y="8" width="3" height="1" fill="#a8a8a8"/>
<rect x="656" y="10" width="3" height="1" fill="#a8a8a8"/>
<rect x="656" y="12" width="3" height="1" fill="#a8a8a8"/>
<rect x="656" y="14" width="3" height="1" fill="#a8a8a8"/>
<rect x="662" y="0" width="1" height="16" fill="#a0a0a0"/>
<rect x="663" y="0" width="24" height="16" fill="#fafafa"/>
<path d="M670 -2V10.5L672.8 8L675.5 13L677.3 12L674.8 7.3H678.5Z" fill="#505050"/>
<path d="M695 6.5H710M702.5 0V14" stroke="#505050" stroke-width="1.1"/>
<rect x="719" y="0" width="1" height="16" fill="#a0a0a0"/>
<path d="M736.5 0V12.5" stroke="#505050" stroke-width="1.2"/>
<path d="M759 6.2H771" stroke="#505050" stroke-width="1.2"/>
<path d="M787 12.8L799 1" stroke="#505050" stroke-width="1.2"/>
<path d="M813 9L825 0M815 12.5L827.5 3M816 5.5L818.5 11M819.5 3L822 8.5M823 0.5L825.5 6" stroke="#505050" stroke-width="1" fill="none"/>
<text x="823.8" y="14.6" font-size="6.5px" font-weight="bold" fill="#404040">E</text>
<path d="M842 2.5H855M842 6.5H855M842 10.5H851" stroke="#606060" stroke-width="1" stroke-dasharray="1 1"/>
<text x="851.8" y="14.6" font-size="6.5px" font-weight="bold" fill="#404040">F</text>
<text x="872" y="10.8" font-size="12.5px" font-weight="bold" fill="#585858" textLength="9" lengthAdjust="spacingAndGlyphs">A</text>
<rect x="899.5" y="-1" width="11" height="13.5" fill="none" stroke="#505050" stroke-width="1" stroke-dasharray="1 1"/>
<text x="901.3" y="10.6" font-size="11.5px" font-weight="bold" fill="#585858">T</text>
<path d="M926.5 3L929.5 0L932.5 3L929.5 6Z" fill="#404040"/><path d="M934 9.5L937 6.5L940 9.5L937 12.5Z" fill="#404040"/><path d="M928 6.5L930 8.5L933.5 4.5" stroke="#404040" stroke-width="1.2" fill="none"/>
<polygon points="946.8,5 952.8,5 949.8,8.5" fill="#000"/>
<rect x="958" y="0" width="1" height="18" fill="#a0a0a0"/>
<rect x="961" y="0" width="3" height="1" fill="#a8a8a8"/>
<rect x="961" y="2" width="3" height="1" fill="#a8a8a8"/>
<rect x="961" y="4" width="3" height="1" fill="#a8a8a8"/>
<rect x="961" y="6" width="3" height="1" fill="#a8a8a8"/>
<rect x="961" y="8" width="3" height="1" fill="#a8a8a8"/>
<rect x="961" y="10" width="3" height="1" fill="#a8a8a8"/>
<rect x="961" y="12" width="3" height="1" fill="#a8a8a8"/>
<rect x="961" y="14" width="3" height="1" fill="#a8a8a8"/>
<rect x="1137" y="0" width="24" height="16" fill="#fafafa"/>
<rect x="1136" y="0" width="1" height="16" fill="#a0a0a0"/>
<text x="973.7" y="10.2" font-size="9.4px" fill="#4d4d4d" textLength="12.6" lengthAdjust="spacingAndGlyphs">M1</text>
<text x="1001.7" y="10.2" font-size="9.4px" fill="#4d4d4d" textLength="12.9" lengthAdjust="spacingAndGlyphs">M5</text>
<text x="1027.5" y="10.2" font-size="9.4px" fill="#4d4d4d" textLength="17.8" lengthAdjust="spacingAndGlyphs">M15</text>
<text x="1055.8" y="10.2" font-size="9.4px" fill="#4d4d4d" textLength="17.7" lengthAdjust="spacingAndGlyphs">M30</text>
<text x="1086.4" y="10.2" font-size="9.4px" fill="#4d4d4d" textLength="11.8" lengthAdjust="spacingAndGlyphs">H1</text>
<text x="1113.6" y="10.2" font-size="9.4px" fill="#4d4d4d" textLength="12.4" lengthAdjust="spacingAndGlyphs">H4</text>
<text x="1142.6" y="10.2" font-size="9.4px" fill="#4d4d4d" textLength="11.7" lengthAdjust="spacingAndGlyphs">D1</text>
<text x="1170.4" y="10.2" font-size="9.4px" fill="#4d4d4d" textLength="13.7" lengthAdjust="spacingAndGlyphs">W1</text>
<text x="1196.2" y="10.2" font-size="9.4px" fill="#4d4d4d" textLength="15.4" lengthAdjust="spacingAndGlyphs">MN</text>
<rect x="1219" y="0" width="1" height="18" fill="#a0a0a0"/>
<path d="M1682 10.5L1686 6" stroke="#2a5fd0" stroke-width="2.4" stroke-linecap="round"/>
<circle cx="1689.5" cy="3" r="4.2" fill="#f4f8ff" stroke="#2a5fd0" stroke-width="1.6"/>
<path d="M1722 -1.5a6.8 4.6 0 0 1 3.6 8.5l0.9 2.6l-3-1.9a6.8 4.6 0 1 1 -1.5-9.2z" fill="#ececec" stroke="#808080" stroke-width="1"/>
<path d="M1713.6 3.2a5.5 3.8 0 1 1 -2.2 7.3l-2 2.2l0.2-3a5.5 3.8 0 0 1 4-6.5z" fill="#f6f6f8" stroke="#686868" stroke-width="1"/>
</g></g>
</svg></body></html>
